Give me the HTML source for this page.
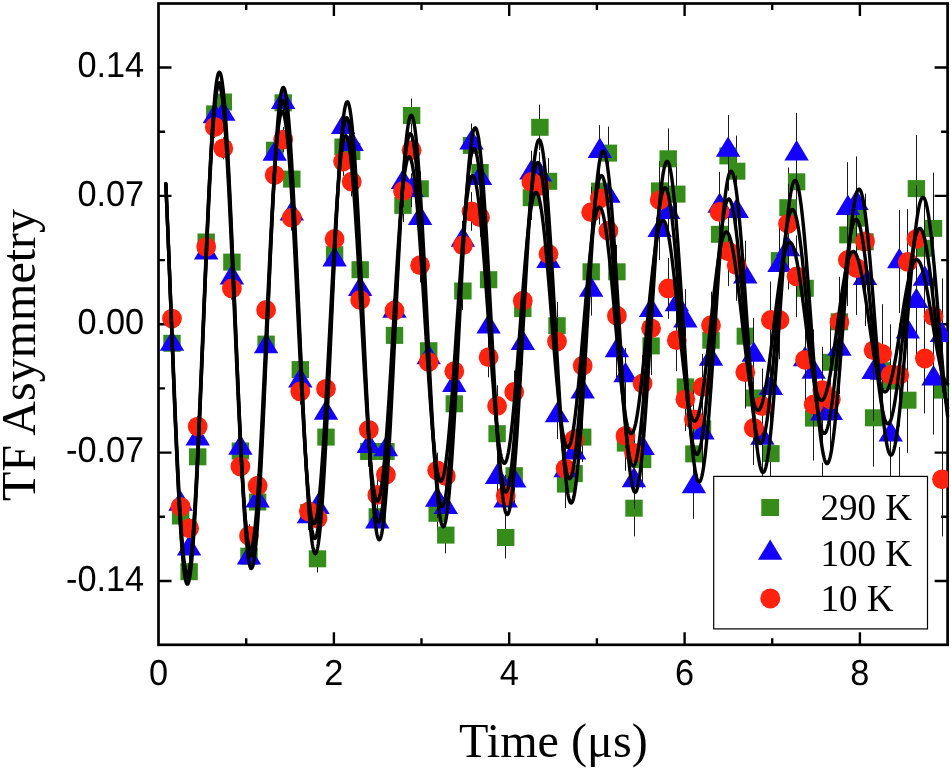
<!DOCTYPE html><html><head><meta charset="utf-8"><style>html,body{margin:0;padding:0;background:#fff;width:951px;height:769px;overflow:hidden}svg{display:block;will-change:transform}</style></head><body>
<svg width="951" height="769" viewBox="0 0 951 769">
<rect width="951" height="769" fill="#fff"/>
<rect x="158.5" y="3.5" width="789.1" height="641.3" fill="none" stroke="#000" stroke-width="2.7"/>
<path d="M246.2 644.8V638.3M246.2 3.5V10.0M333.9 644.8V632.1999999999999M333.9 3.5V16.1M421.5 644.8V638.3M421.5 3.5V10.0M509.2 644.8V632.1999999999999M509.2 3.5V16.1M596.9 644.8V638.3M596.9 3.5V10.0M684.6 644.8V632.1999999999999M684.6 3.5V16.1M772.2 644.8V638.3M772.2 3.5V10.0M859.9 644.8V632.1999999999999M859.9 3.5V16.1M158.5 581.0H171.5M947.6 581.0H934.6M158.5 516.8H165.0M947.6 516.8H941.1M158.5 452.6H171.5M947.6 452.6H934.6M158.5 388.4H165.0M947.6 388.4H941.1M158.5 324.2H171.5M947.6 324.2H934.6M158.5 260.1H165.0M947.6 260.1H941.1M158.5 195.9H171.5M947.6 195.9H934.6M158.5 131.7H165.0M947.6 131.7H941.1M158.5 67.5H171.5M947.6 67.5H934.6" stroke="#000" stroke-width="2.4"/>
<defs><clipPath id="pc"><rect x="157" y="2" width="791.2" height="644"/></clipPath></defs><g clip-path="url(#pc)">
<path d="M172.5 333.6V353.0M180.5 506.1V525.9M189.5 561.6V581.8M197.5 446.5V467.1M206.5 231.5V252.5M214.5 103.1V124.7M223.5 91.0V113.0M231.5 250.9V273.3M240.5 439.6V462.4M249.5 544.6V567.8M257.5 490.1V513.9M266.5 332.0V356.2M274.5 137.9V162.5M283.5 90.2V115.4M291.5 166.3V191.9M300.5 356.5V382.7M308.5 499.2V525.8M317.5 545.2V572.4M326.5 423.2V451.0M334.5 240.6V268.8M343.5 132.6V161.4M351.5 136.8V166.2M360.5 254.7V284.7M368.5 436.2V466.8M377.5 501.1V532.3M385.5 435.6V467.4M394.5 319.2V351.6M403.5 188.8V222.0M411.5 98.6V132.4M420.5 171.6V206.0M428.5 333.1V368.3M437.5 495.4V531.2M445.5 516.8V553.4M454.5 385.2V422.4M462.5 272.0V310.0M471.5 126.0V164.8M480.5 152.8V192.2M488.5 259.6V299.8M497.5 413.2V454.2M505.5 516.6V558.4M514.5 454.3V497.1M522.5 286.8V330.4M531.5 175.5V219.9M539.5 104.6V150.0M548.5 158.2V204.4M557.5 302.1V349.3M565.5 460.1V508.1M574.5 449.1V498.1M582.5 412.1V462.1M591.5 246.3V297.3M599.5 165.1V217.1M608.5 126.6V179.6M616.5 244.8V298.8M625.5 415.5V470.7M634.5 480.1V536.3M642.5 431.0V488.3M651.5 316.7V375.1M659.5 161.1V220.7M668.5 128.4V189.2M676.5 163.1V225.1M685.5 355.3V418.5M693.5 421.7V486.1M702.5 396.0V461.8M711.5 306.7V373.7M719.5 200.1V268.5M728.5 121.0V190.8M736.5 135.6V206.8M745.5 299.9V372.5M753.5 361.0V435.0M762.5 467.3V542.7M770.5 415.1V492.1M779.5 221.4V299.9M788.5 167.6V247.7M796.5 141.0V222.6M805.5 246.6V329.9M813.5 375.7V460.5M822.5 462.7V549.3M830.5 318.1V406.4M839.5 276.8V366.8M847.5 188.9V280.8M856.5 171.4V265.0M865.5 194.1V289.5M873.5 369.1V466.5M882.5 321.1V420.3M890.5 330.4V431.6M899.5 447.0V550.2M907.5 347.5V452.9M916.5 134.9V242.3M924.5 193.5V303.1M933.5 172.6V284.2M942.5 333.1V447.1" stroke="#1a1a1a" stroke-width="1.0" fill="none"/>
<g fill="#358c1b"><rect x="163.3" y="334.8" width="17.4" height="17"/><rect x="171.9" y="507.5" width="17.4" height="17"/><rect x="180.4" y="563.2" width="17.4" height="17"/><rect x="189.0" y="448.3" width="17.4" height="17"/><rect x="197.5" y="233.5" width="17.4" height="17"/><rect x="206.1" y="105.4" width="17.4" height="17"/><rect x="214.6" y="93.5" width="17.4" height="17"/><rect x="223.2" y="253.6" width="17.4" height="17"/><rect x="231.7" y="442.5" width="17.4" height="17"/><rect x="240.3" y="547.7" width="17.4" height="17"/><rect x="248.9" y="493.5" width="17.4" height="17"/><rect x="257.4" y="335.6" width="17.4" height="17"/><rect x="266.0" y="141.7" width="17.4" height="17"/><rect x="274.5" y="94.3" width="17.4" height="17"/><rect x="283.1" y="170.6" width="17.4" height="17"/><rect x="291.6" y="361.1" width="17.4" height="17"/><rect x="300.2" y="504.0" width="17.4" height="17"/><rect x="308.8" y="550.3" width="17.4" height="17"/><rect x="317.3" y="428.6" width="17.4" height="17"/><rect x="325.9" y="246.2" width="17.4" height="17"/><rect x="334.4" y="138.5" width="17.4" height="17"/><rect x="343.0" y="143.0" width="17.4" height="17"/><rect x="351.5" y="261.2" width="17.4" height="17"/><rect x="360.1" y="443.0" width="17.4" height="17"/><rect x="368.6" y="508.2" width="17.4" height="17"/><rect x="377.2" y="443.0" width="17.4" height="17"/><rect x="385.8" y="326.9" width="17.4" height="17"/><rect x="394.3" y="196.9" width="17.4" height="17"/><rect x="402.9" y="107.0" width="17.4" height="17"/><rect x="411.4" y="180.3" width="17.4" height="17"/><rect x="420.0" y="342.2" width="17.4" height="17"/><rect x="428.5" y="504.8" width="17.4" height="17"/><rect x="437.1" y="526.6" width="17.4" height="17"/><rect x="445.6" y="395.3" width="17.4" height="17"/><rect x="454.2" y="282.5" width="17.4" height="17"/><rect x="462.8" y="136.9" width="17.4" height="17"/><rect x="471.3" y="164.0" width="17.4" height="17"/><rect x="479.9" y="271.2" width="17.4" height="17"/><rect x="488.4" y="425.2" width="17.4" height="17"/><rect x="497.0" y="529.0" width="17.4" height="17"/><rect x="505.5" y="467.2" width="17.4" height="17"/><rect x="514.1" y="300.1" width="17.4" height="17"/><rect x="522.7" y="189.2" width="17.4" height="17"/><rect x="531.2" y="118.8" width="17.4" height="17"/><rect x="539.8" y="172.8" width="17.4" height="17"/><rect x="548.3" y="317.2" width="17.4" height="17"/><rect x="556.9" y="475.6" width="17.4" height="17"/><rect x="565.4" y="465.1" width="17.4" height="17"/><rect x="574.0" y="428.6" width="17.4" height="17"/><rect x="582.5" y="263.3" width="17.4" height="17"/><rect x="591.1" y="182.6" width="17.4" height="17"/><rect x="599.7" y="144.6" width="17.4" height="17"/><rect x="608.2" y="263.3" width="17.4" height="17"/><rect x="616.8" y="434.6" width="17.4" height="17"/><rect x="625.3" y="499.7" width="17.4" height="17"/><rect x="633.9" y="451.1" width="17.4" height="17"/><rect x="642.4" y="337.4" width="17.4" height="17"/><rect x="651.0" y="182.4" width="17.4" height="17"/><rect x="659.5" y="150.3" width="17.4" height="17"/><rect x="668.1" y="185.6" width="17.4" height="17"/><rect x="676.7" y="378.4" width="17.4" height="17"/><rect x="685.2" y="445.4" width="17.4" height="17"/><rect x="693.8" y="420.4" width="17.4" height="17"/><rect x="702.3" y="331.7" width="17.4" height="17"/><rect x="710.9" y="225.8" width="17.4" height="17"/><rect x="719.4" y="147.4" width="17.4" height="17"/><rect x="728.0" y="162.7" width="17.4" height="17"/><rect x="736.6" y="327.7" width="17.4" height="17"/><rect x="745.1" y="389.5" width="17.4" height="17"/><rect x="753.7" y="496.5" width="17.4" height="17"/><rect x="762.2" y="445.1" width="17.4" height="17"/><rect x="770.8" y="252.1" width="17.4" height="17"/><rect x="779.3" y="199.2" width="17.4" height="17"/><rect x="787.9" y="173.3" width="17.4" height="17"/><rect x="796.4" y="279.8" width="17.4" height="17"/><rect x="805.0" y="409.6" width="17.4" height="17"/><rect x="813.6" y="497.5" width="17.4" height="17"/><rect x="822.1" y="353.8" width="17.4" height="17"/><rect x="830.7" y="313.3" width="17.4" height="17"/><rect x="839.2" y="226.4" width="17.4" height="17"/><rect x="847.8" y="209.7" width="17.4" height="17"/><rect x="856.3" y="233.3" width="17.4" height="17"/><rect x="864.9" y="409.3" width="17.4" height="17"/><rect x="873.4" y="362.2" width="17.4" height="17"/><rect x="882.0" y="372.5" width="17.4" height="17"/><rect x="890.6" y="490.1" width="17.4" height="17"/><rect x="899.1" y="391.7" width="17.4" height="17"/><rect x="907.7" y="180.1" width="17.4" height="17"/><rect x="916.2" y="239.8" width="17.4" height="17"/><rect x="924.8" y="219.9" width="17.4" height="17"/><rect x="933.3" y="381.6" width="17.4" height="17"/></g>
<path d="M172.5 334.3V353.7M180.5 494.1V513.9M189.5 538.6V558.8M197.5 428.5V449.1M206.5 242.2V263.2M214.5 105.8V127.4M223.5 103.0V125.0M231.5 266.5V288.9M240.5 436.6V459.4M249.5 546.3V569.5M257.5 488.9V512.7M266.5 334.5V358.7M274.5 141.7V166.3M283.5 89.6V114.8M291.5 201.1V226.7M300.5 367.7V393.9M308.5 503.3V529.9M317.5 493.8V521.0M326.5 399.2V427.0M334.5 245.7V273.9M343.5 112.8V141.6M351.5 129.5V158.9M360.5 274.3V304.3M368.5 430.9V461.5M377.5 506.3V537.5M385.5 433.7V465.5M394.5 294.9V327.3M403.5 165.8V199.0M411.5 173.3V207.1M420.5 201.2V235.6M428.5 340.0V375.2M437.5 482.2V518.0M445.5 489.1V525.7M454.5 366.6V403.8M462.5 221.1V259.1M471.5 123.5V162.3M480.5 158.7V198.1M488.5 306.8V347.0M497.5 456.7V497.7M505.5 479.9V521.7M514.5 459.5V502.3M522.5 321.4V365.0M531.5 150.7V195.1M539.5 152.1V197.5M548.5 238.1V284.3M557.5 391.9V439.1M565.5 446.6V494.6M574.5 428.2V477.2M582.5 366.8V416.8M591.5 264.6V315.6M599.5 125.2V177.2M608.5 169.6V222.6M616.5 323.5V377.5M625.5 347.9V403.1M634.5 452.4V508.6M642.5 419.6V477.0M651.5 281.1V339.5M659.5 200.4V260.0M668.5 181.9V242.7M676.5 273.5V335.5M685.5 289.2V352.4M693.5 454.4V518.8M702.5 399.8V465.6M711.5 325.5V392.5M719.5 171.8V240.2M728.5 115.1V184.9M736.5 175.7V246.9M745.5 240.6V313.2M753.5 318.0V392.0M762.5 400.3V475.7M770.5 349.9V426.9M779.5 226.1V304.5M788.5 209.5V289.6M796.5 112.9V194.5M805.5 318.0V401.2M813.5 329.6V414.5M822.5 370.4V457.0M830.5 369.2V457.5M839.5 304.0V394.0M847.5 162.2V254.1M856.5 156.4V250.0M865.5 230.6V326.1M873.5 323.7V421.1M882.5 323.4V422.6M890.5 384.3V485.5M899.5 209.9V313.1M907.5 279.2V384.6M916.5 247.6V355.0M924.5 224.3V333.9M933.5 322.9V434.5M942.5 278.4V392.4" stroke="#1a1a1a" stroke-width="1.0" fill="none"/>
<path fill="#1400ff" d="M159.8 350.7L184.2 350.7L172.0 330.4ZM168.4 510.7L192.8 510.7L180.6 490.4ZM176.9 555.4L201.3 555.4L189.1 535.1ZM185.5 445.5L209.9 445.5L197.7 425.2ZM194.0 259.4L218.4 259.4L206.2 239.1ZM202.6 123.3L227.0 123.3L214.8 103.0ZM211.1 120.7L235.5 120.7L223.3 100.4ZM219.7 284.4L244.1 284.4L231.9 264.1ZM228.2 454.7L252.6 454.7L240.4 434.4ZM236.8 564.6L261.2 564.6L249.0 544.3ZM245.4 507.5L269.8 507.5L257.6 487.2ZM253.9 353.3L278.3 353.3L266.1 333.0ZM262.5 160.7L286.9 160.7L274.7 140.4ZM271.0 108.9L295.4 108.9L283.2 88.6ZM279.6 220.6L304.0 220.6L291.8 200.3ZM288.1 387.5L312.5 387.5L300.3 367.2ZM296.7 523.3L321.1 523.3L308.9 503.0ZM305.3 514.1L329.7 514.1L317.5 493.8ZM313.8 419.8L338.2 419.8L326.0 399.5ZM322.4 266.5L346.8 266.5L334.6 246.2ZM330.9 133.9L355.3 133.9L343.1 113.6ZM339.5 150.9L363.9 150.9L351.7 130.6ZM348.0 296.0L372.4 296.0L360.2 275.7ZM356.6 452.9L381.0 452.9L368.8 432.6ZM365.1 528.6L389.5 528.6L377.3 508.3ZM373.7 456.3L398.1 456.3L385.9 436.0ZM382.3 317.8L406.7 317.8L394.5 297.5ZM390.8 189.1L415.2 189.1L403.0 168.8ZM399.4 196.9L423.8 196.9L411.6 176.6ZM407.9 225.1L432.3 225.1L420.1 204.8ZM416.5 364.3L440.9 364.3L428.7 344.0ZM425.0 506.8L449.4 506.8L437.2 486.5ZM433.6 514.1L458.0 514.1L445.8 493.8ZM442.1 391.9L466.5 391.9L454.3 371.6ZM450.7 246.8L475.1 246.8L462.9 226.5ZM459.3 149.6L483.7 149.6L471.5 129.3ZM467.8 185.1L492.2 185.1L480.0 164.8ZM476.4 333.6L500.8 333.6L488.6 313.3ZM484.9 483.9L509.3 483.9L497.1 463.6ZM493.5 507.5L517.9 507.5L505.7 487.2ZM502.0 487.6L526.4 487.6L514.2 467.3ZM510.6 349.9L535.0 349.9L522.8 329.6ZM519.2 179.6L543.6 179.6L531.4 159.3ZM527.7 181.5L552.1 181.5L539.9 161.2ZM536.3 267.9L560.7 267.9L548.5 247.6ZM544.8 422.2L569.2 422.2L557.0 401.9ZM553.4 477.3L577.8 477.3L565.6 457.0ZM561.9 459.4L586.3 459.4L574.1 439.1ZM570.5 398.5L594.9 398.5L582.7 378.2ZM579.0 296.8L603.4 296.8L591.2 276.5ZM587.6 157.9L612.0 157.9L599.8 137.6ZM596.2 202.8L620.6 202.8L608.4 182.5ZM604.7 357.2L629.1 357.2L616.9 336.9ZM613.3 382.2L637.7 382.2L625.5 361.9ZM621.8 487.2L646.2 487.2L634.0 466.9ZM630.4 455.0L654.8 455.0L642.6 434.7ZM638.9 317.0L663.3 317.0L651.1 296.7ZM647.5 236.9L671.9 236.9L659.7 216.6ZM656.0 219.0L680.4 219.0L668.2 198.7ZM664.6 311.2L689.0 311.2L676.8 290.9ZM673.2 327.5L697.6 327.5L685.4 307.2ZM681.7 493.3L706.1 493.3L693.9 473.0ZM690.3 439.4L714.7 439.4L702.5 419.1ZM698.8 365.7L723.2 365.7L711.0 345.4ZM707.4 212.7L731.8 212.7L719.6 192.4ZM715.9 156.7L740.3 156.7L728.1 136.4ZM724.5 218.0L748.9 218.0L736.7 197.7ZM733.1 283.6L757.5 283.6L745.3 263.3ZM741.6 361.7L766.0 361.7L753.8 341.4ZM750.2 444.7L774.6 444.7L762.4 424.4ZM758.7 395.1L783.1 395.1L770.9 374.8ZM767.3 272.0L791.7 272.0L779.5 251.7ZM775.8 256.2L800.2 256.2L788.0 235.9ZM784.4 160.4L808.8 160.4L796.6 140.1ZM792.9 366.3L817.3 366.3L805.1 346.0ZM801.5 378.8L825.9 378.8L813.7 358.4ZM810.1 420.4L834.5 420.4L822.3 400.1ZM818.6 420.1L843.0 420.1L830.8 399.8ZM827.2 355.7L851.6 355.7L839.4 335.4ZM835.7 214.9L860.1 214.9L847.9 194.6ZM844.3 209.9L868.7 209.9L856.5 189.6ZM852.8 285.1L877.2 285.1L865.0 264.8ZM861.4 379.1L885.8 379.1L873.6 358.8ZM869.9 379.7L894.3 379.7L882.1 359.4ZM878.5 441.6L902.9 441.6L890.7 421.3ZM887.1 268.2L911.5 268.2L899.3 247.9ZM895.6 338.6L920.0 338.6L907.8 318.3ZM904.2 308.0L928.6 308.0L916.4 287.7ZM912.7 285.8L937.1 285.8L924.9 265.5ZM921.3 385.4L945.7 385.4L933.5 365.1ZM929.8 342.1L954.2 342.1L942.0 321.8Z"/>
<path d="M172.5 308.9V328.3M180.5 496.9V516.7M189.5 518.2V538.4M197.5 416.3V436.9M206.5 236.3V257.3M214.5 116.2V137.8M223.5 137.3V159.3M231.5 277.2V299.6M240.5 455.1V477.9M249.5 524.1V547.3M257.5 473.8V497.6M266.5 297.8V322.0M274.5 162.8V187.4M283.5 127.0V152.2M291.5 204.9V230.5M300.5 378.3V404.5M308.5 498.2V524.8M317.5 505.0V532.2M326.5 374.9V402.7M334.5 224.8V253.1M343.5 147.1V175.9M351.5 167.0V196.4M360.5 284.9V314.9M368.5 414.4V445.1M377.5 479.3V510.5M385.5 458.8V490.6M394.5 294.2V326.6M403.5 174.3V207.5M411.5 133.3V167.1M420.5 248.0V282.4M428.5 344.4V379.6M437.5 452.6V488.4M445.5 457.7V494.3M454.5 352.6V389.8M462.5 226.2V264.1M471.5 192.0V230.8M480.5 197.5V236.9M488.5 337.1V377.3M497.5 385.4V426.4M505.5 474.8V516.6M514.5 370.5V413.3M522.5 278.9V322.5M531.5 159.7V204.1M539.5 163.1V208.5M548.5 230.8V277.0M557.5 317.9V365.1M565.5 444.6V492.6M574.5 415.2V464.2M582.5 340.7V390.7M591.5 186.7V237.7M599.5 172.5V224.5M608.5 204.2V257.2M616.5 288.7V342.7M625.5 408.2V463.4M634.5 424.8V481.0M642.5 354.8V412.2M651.5 299.1V357.5M659.5 170.3V229.9M668.5 258.0V318.8M676.5 309.2V371.2M685.5 367.6V430.9M693.5 387.1V451.6M702.5 354.0V419.8M711.5 291.7V358.7M719.5 177.7V246.1M728.5 216.4V286.2M736.5 229.6V300.8M745.5 335.9V408.5M753.5 390.9V464.9M762.5 368.5V444.0M770.5 281.6V358.5M779.5 280.8V359.3M788.5 183.7V263.8M796.5 235.5V317.2M805.5 318.2V401.4M813.5 362.0V446.8M822.5 346.8V433.4M830.5 355.3V443.5M839.5 277.0V367.0M847.5 214.1V305.9M856.5 221.2V314.9M865.5 193.7V289.2M873.5 301.6V399.0M882.5 304.2V403.4M890.5 324.3V425.5M899.5 323.3V426.5M907.5 209.2V314.6M916.5 185.2V292.6M924.5 303.7V413.3M933.5 260.5V372.1M942.5 422.3V536.3" stroke="#1a1a1a" stroke-width="1.0" fill="none"/>
<g fill="#ff230f"><circle cx="172.0" cy="318.6" r="9.9"/><circle cx="180.6" cy="506.8" r="9.9"/><circle cx="189.1" cy="528.3" r="9.9"/><circle cx="197.7" cy="426.6" r="9.9"/><circle cx="206.2" cy="246.8" r="9.9"/><circle cx="214.8" cy="127.0" r="9.9"/><circle cx="223.3" cy="148.3" r="9.9"/><circle cx="231.9" cy="288.4" r="9.9"/><circle cx="240.4" cy="466.5" r="9.9"/><circle cx="249.0" cy="535.7" r="9.9"/><circle cx="257.6" cy="485.7" r="9.9"/><circle cx="266.1" cy="309.9" r="9.9"/><circle cx="274.7" cy="175.1" r="9.9"/><circle cx="283.2" cy="139.6" r="9.9"/><circle cx="291.8" cy="217.7" r="9.9"/><circle cx="300.3" cy="391.4" r="9.9"/><circle cx="308.9" cy="511.5" r="9.9"/><circle cx="317.5" cy="518.6" r="9.9"/><circle cx="326.0" cy="388.8" r="9.9"/><circle cx="334.6" cy="238.9" r="9.9"/><circle cx="343.1" cy="161.5" r="9.9"/><circle cx="351.7" cy="181.7" r="9.9"/><circle cx="360.2" cy="299.9" r="9.9"/><circle cx="368.8" cy="429.8" r="9.9"/><circle cx="377.3" cy="494.9" r="9.9"/><circle cx="385.9" cy="474.7" r="9.9"/><circle cx="394.5" cy="310.4" r="9.9"/><circle cx="403.0" cy="190.9" r="9.9"/><circle cx="411.6" cy="150.2" r="9.9"/><circle cx="420.1" cy="265.2" r="9.9"/><circle cx="428.7" cy="362.0" r="9.9"/><circle cx="437.2" cy="470.5" r="9.9"/><circle cx="445.8" cy="476.0" r="9.9"/><circle cx="454.3" cy="371.2" r="9.9"/><circle cx="462.9" cy="245.2" r="9.9"/><circle cx="471.5" cy="211.4" r="9.9"/><circle cx="480.0" cy="217.2" r="9.9"/><circle cx="488.6" cy="357.2" r="9.9"/><circle cx="497.1" cy="405.9" r="9.9"/><circle cx="505.7" cy="495.7" r="9.9"/><circle cx="514.2" cy="391.9" r="9.9"/><circle cx="522.8" cy="300.7" r="9.9"/><circle cx="531.4" cy="181.9" r="9.9"/><circle cx="539.9" cy="185.8" r="9.9"/><circle cx="548.5" cy="253.9" r="9.9"/><circle cx="557.0" cy="341.5" r="9.9"/><circle cx="565.6" cy="468.6" r="9.9"/><circle cx="574.1" cy="439.7" r="9.9"/><circle cx="582.7" cy="365.7" r="9.9"/><circle cx="591.2" cy="212.2" r="9.9"/><circle cx="599.8" cy="198.5" r="9.9"/><circle cx="608.4" cy="230.7" r="9.9"/><circle cx="616.9" cy="315.7" r="9.9"/><circle cx="625.5" cy="435.8" r="9.9"/><circle cx="634.0" cy="452.9" r="9.9"/><circle cx="642.6" cy="383.5" r="9.9"/><circle cx="651.1" cy="328.3" r="9.9"/><circle cx="659.7" cy="200.1" r="9.9"/><circle cx="668.2" cy="288.4" r="9.9"/><circle cx="676.8" cy="340.2" r="9.9"/><circle cx="685.4" cy="399.2" r="9.9"/><circle cx="693.9" cy="419.4" r="9.9"/><circle cx="702.5" cy="386.9" r="9.9"/><circle cx="711.0" cy="325.2" r="9.9"/><circle cx="719.6" cy="211.9" r="9.9"/><circle cx="728.1" cy="251.3" r="9.9"/><circle cx="736.7" cy="265.2" r="9.9"/><circle cx="745.3" cy="372.2" r="9.9"/><circle cx="753.8" cy="427.9" r="9.9"/><circle cx="762.4" cy="406.2" r="9.9"/><circle cx="770.9" cy="320.0" r="9.9"/><circle cx="779.5" cy="320.0" r="9.9"/><circle cx="788.0" cy="223.8" r="9.9"/><circle cx="796.6" cy="276.4" r="9.9"/><circle cx="805.1" cy="359.8" r="9.9"/><circle cx="813.7" cy="404.4" r="9.9"/><circle cx="822.3" cy="390.1" r="9.9"/><circle cx="830.8" cy="399.4" r="9.9"/><circle cx="839.4" cy="322.0" r="9.9"/><circle cx="847.9" cy="260.0" r="9.9"/><circle cx="856.5" cy="268.0" r="9.9"/><circle cx="865.0" cy="241.4" r="9.9"/><circle cx="873.6" cy="350.3" r="9.9"/><circle cx="882.1" cy="353.8" r="9.9"/><circle cx="890.7" cy="374.9" r="9.9"/><circle cx="899.3" cy="374.9" r="9.9"/><circle cx="907.8" cy="261.9" r="9.9"/><circle cx="916.4" cy="238.9" r="9.9"/><circle cx="924.9" cy="358.5" r="9.9"/><circle cx="933.5" cy="316.3" r="9.9"/><circle cx="942.0" cy="479.3" r="9.9"/></g>
</g>
<path d="M165.80 183.71L166.24 193.51L166.67 203.54L167.11 213.78L167.54 224.21L167.98 234.81L168.41 245.57L168.85 256.47L169.28 267.47L169.71 278.58L170.15 289.75L170.58 300.98L171.02 312.24L171.45 323.52L171.89 334.78L172.32 346.02L172.76 357.20L173.19 368.32L173.63 379.35L174.06 390.27L174.50 401.06L174.93 411.70L175.36 422.17L175.80 432.45L176.23 442.53L176.67 452.39L177.10 462.00L177.54 471.35L177.97 480.43L178.41 489.21L178.84 497.69L179.28 505.84L179.71 513.66L180.14 521.12L180.58 528.22L181.01 534.95L181.45 541.28L181.88 547.21L182.32 552.73L182.75 557.83L183.19 562.50L183.62 566.73L184.06 570.52L184.49 573.85L184.92 576.73L185.36 579.15L185.79 581.09L186.23 582.57L186.66 583.58L187.10 584.11L187.53 584.17L187.97 583.76L188.40 582.87L188.84 581.52L189.27 579.69L189.71 577.41L190.14 574.66L190.57 571.46L191.01 567.81L191.44 563.72L191.88 559.20L192.31 554.25L192.75 548.89L193.18 543.13L193.62 536.97L194.05 530.43L194.49 523.52L194.92 516.25L195.35 508.64L195.79 500.69L196.22 492.44L196.66 483.88L197.09 475.04L197.53 465.94L197.96 456.58L198.40 446.99L198.83 437.18L199.27 427.18L199.70 417.00L200.13 406.66L200.57 396.17L201.00 385.56L201.44 374.86L201.87 364.06L202.31 353.21L202.74 342.31L203.18 331.39L203.61 320.46L204.05 309.55L204.48 298.67L204.92 287.85L205.35 277.11L205.78 266.46L206.22 255.93L206.65 245.53L207.09 235.28L207.52 225.20L207.96 215.31L208.39 205.63L208.83 196.17L209.26 186.95L209.70 177.99L210.13 169.30L210.56 160.91L211.00 152.82L211.43 145.04L211.87 137.60L212.30 130.51L212.74 123.78L213.17 117.41L213.61 111.43L214.04 105.84L214.48 100.65L214.91 95.88L215.34 91.52L215.78 87.59L216.21 84.10L216.65 81.05L217.08 78.44L217.52 76.28L217.95 74.58L218.39 73.33L218.82 72.54L219.26 72.21L219.69 72.33L220.13 72.92L220.56 73.96L220.99 75.46L221.43 77.41L221.86 79.81L222.30 82.65L222.73 85.93L223.17 89.64L223.60 93.77L224.04 98.32L224.47 103.28L224.91 108.64L225.34 114.38L225.77 120.50L226.21 126.99L226.64 133.83L227.08 141.01L227.51 148.52L227.95 156.35L228.38 164.47L228.82 172.87L229.25 181.55L229.69 190.48L230.12 199.64L230.55 209.02L230.99 218.61L231.42 228.38L231.86 238.31L232.29 248.39L232.73 258.60L233.16 268.93L233.60 279.34L234.03 289.83L234.47 300.37L234.90 310.95L235.34 321.54L235.77 332.13L236.20 342.69L236.64 353.21L237.07 363.67L237.51 374.05L237.94 384.33L238.38 394.49L238.81 404.52L239.25 414.39L239.68 424.08L240.12 433.59L240.55 442.89L240.98 451.96L241.42 460.80L241.85 469.38L242.29 477.69L242.72 485.71L243.16 493.43L243.59 500.83L244.03 507.91L244.46 514.65L244.90 521.03L245.33 527.05L245.76 532.70L246.20 537.96L246.63 542.82L247.07 547.29L247.50 551.34L247.94 554.98L248.37 558.20L248.81 560.98L249.24 563.33L249.68 565.25L250.11 566.72L250.55 567.75L250.98 568.34L251.41 568.48L251.85 568.17L252.28 567.43L252.72 566.24L253.15 564.61L253.59 562.54L254.02 560.04L254.46 557.11L254.89 553.77L255.33 550.00L255.76 545.83L256.19 541.26L256.63 536.30L257.06 530.95L257.50 525.24L257.93 519.16L258.37 512.73L258.80 505.96L259.24 498.87L259.67 491.47L260.11 483.77L260.54 475.78L260.97 467.52L261.41 459.01L261.84 450.27L262.28 441.30L262.71 432.12L263.15 422.76L263.58 413.22L264.02 403.53L264.45 393.70L264.89 383.76L265.32 373.72L265.76 363.59L266.19 353.40L266.62 343.17L267.06 332.91L267.49 322.64L267.93 312.38L268.36 302.16L268.80 291.98L269.23 281.87L269.67 271.85L270.10 261.93L270.54 252.13L270.97 242.48L271.40 232.98L271.84 223.65L272.27 214.51L272.71 205.58L273.14 196.88L273.58 188.42L274.01 180.20L274.45 172.26L274.88 164.60L275.32 157.24L275.75 150.19L276.19 143.47L276.62 137.07L277.05 131.03L277.49 125.34L277.92 120.01L278.36 115.07L278.79 110.51L279.23 106.34L279.66 102.57L280.10 99.21L280.53 96.26L280.97 93.73L281.40 91.63L281.83 89.94L282.27 88.69L282.70 87.86L283.14 87.47L283.57 87.51L284.01 87.98L284.44 88.87L284.88 90.20L285.31 91.95L285.75 94.13L286.18 96.72L286.61 99.72L287.05 103.13L287.48 106.94L287.92 111.14L288.35 115.72L288.79 120.69L289.22 126.01L289.66 131.70L290.09 137.73L290.53 144.09L290.96 150.78L291.40 157.78L291.83 165.07L292.26 172.65L292.70 180.50L293.13 188.60L293.57 196.95L294.00 205.52L294.44 214.29L294.87 223.26L295.31 232.41L295.74 241.72L296.18 251.16L296.61 260.74L297.04 270.42L297.48 280.19L297.91 290.03L298.35 299.93L298.78 309.86L299.22 319.81L299.65 329.76L300.09 339.69L300.52 349.58L300.96 359.42L301.39 369.19L301.82 378.86L302.26 388.43L302.69 397.88L303.13 407.18L303.56 416.32L304.00 425.29L304.43 434.07L304.87 442.63L305.30 450.98L305.74 459.09L306.17 466.94L306.61 474.53L307.04 481.84L307.47 488.85L307.91 495.56L308.34 501.95L308.78 508.01L309.21 513.73L309.65 519.11L310.08 524.12L310.52 528.76L310.95 533.03L311.39 536.91L311.82 540.41L312.25 543.50L312.69 546.20L313.12 548.48L313.56 550.36L313.99 551.83L314.43 552.87L314.86 553.50L315.30 553.72L315.73 553.51L316.17 552.89L316.60 551.85L317.03 550.39L317.47 548.53L317.90 546.26L318.34 543.59L318.77 540.52L319.21 537.05L319.64 533.21L320.08 528.98L320.51 524.39L320.95 519.44L321.38 514.13L321.82 508.48L322.25 502.50L322.68 496.21L323.12 489.60L323.55 482.70L323.99 475.52L324.42 468.06L324.86 460.35L325.29 452.40L325.73 444.23L326.16 435.84L326.60 427.25L327.03 418.49L327.46 409.56L327.90 400.48L328.33 391.27L328.77 381.95L329.20 372.53L329.64 363.03L330.07 353.46L330.51 343.85L330.94 334.22L331.38 324.57L331.81 314.93L332.24 305.32L332.68 295.75L333.11 286.24L333.55 276.80L333.98 267.46L334.42 258.24L334.85 249.14L335.29 240.18L335.72 231.38L336.16 222.77L336.59 214.34L337.03 206.12L337.46 198.12L337.89 190.36L338.33 182.85L338.76 175.60L339.20 168.63L339.63 161.95L340.07 155.57L340.50 149.51L340.94 143.76L341.37 138.35L341.81 133.29L342.24 128.57L342.67 124.22L343.11 120.23L343.54 116.62L343.98 113.39L344.41 110.54L344.85 108.09L345.28 106.03L345.72 104.38L346.15 103.12L346.59 102.27L347.02 101.82L347.45 101.78L347.89 102.14L348.32 102.91L348.76 104.08L349.19 105.65L349.63 107.62L350.06 109.98L350.50 112.73L350.93 115.86L351.37 119.36L351.80 123.24L352.24 127.48L352.67 132.08L353.10 137.02L353.54 142.30L353.97 147.90L354.41 153.82L354.84 160.05L355.28 166.57L355.71 173.37L356.15 180.44L356.58 187.77L357.02 195.34L357.45 203.13L357.88 211.14L358.32 219.35L358.75 227.75L359.19 236.31L359.62 245.03L360.06 253.88L360.49 262.85L360.93 271.93L361.36 281.09L361.80 290.33L362.23 299.62L362.67 308.95L363.10 318.29L363.53 327.64L363.97 336.98L364.40 346.28L364.84 355.54L365.27 364.73L365.71 373.84L366.14 382.85L366.58 391.74L367.01 400.51L367.45 409.13L367.88 417.59L368.31 425.87L368.75 433.96L369.18 441.84L369.62 449.50L370.05 456.92L370.49 464.10L370.92 471.02L371.36 477.66L371.79 484.02L372.23 490.08L372.66 495.84L373.09 501.28L373.53 506.39L373.96 511.16L374.40 515.59L374.83 519.67L375.27 523.39L375.70 526.74L376.14 529.72L376.57 532.32L377.01 534.54L377.44 536.38L377.88 537.83L378.31 538.89L378.74 539.56L379.18 539.83L379.61 539.71L380.05 539.20L380.48 538.30L380.92 537.01L381.35 535.33L381.79 533.27L382.22 530.83L382.66 528.01L383.09 524.83L383.52 521.29L383.96 517.38L384.39 513.13L384.83 508.54L385.26 503.62L385.70 498.37L386.13 492.82L386.57 486.96L387.00 480.80L387.44 474.37L387.87 467.67L388.30 460.72L388.74 453.52L389.17 446.09L389.61 438.45L390.04 430.60L390.48 422.57L390.91 414.37L391.35 406.00L391.78 397.50L392.22 388.87L392.65 380.13L393.09 371.30L393.52 362.38L393.95 353.41L394.39 344.39L394.82 335.34L395.26 326.28L395.69 317.22L396.13 308.18L396.56 299.18L397.00 290.23L397.43 281.35L397.87 272.56L398.30 263.87L398.73 255.29L399.17 246.85L399.60 238.56L400.04 230.43L400.47 222.48L400.91 214.71L401.34 207.16L401.78 199.83L402.21 192.72L402.65 185.87L403.08 179.27L403.51 172.94L403.95 166.89L404.38 161.13L404.82 155.68L405.25 150.53L405.69 145.71L406.12 141.22L406.56 137.06L406.99 133.25L407.43 129.79L407.86 126.69L408.30 123.94L408.73 121.57L409.16 119.57L409.60 117.94L410.03 116.69L410.47 115.81L410.90 115.32L411.34 115.21L411.77 115.48L412.21 116.13L412.64 117.15L413.08 118.56L413.51 120.33L413.94 122.48L414.38 124.99L414.81 127.87L415.25 131.10L415.68 134.67L416.12 138.59L416.55 142.85L416.99 147.43L417.42 152.33L417.86 157.54L418.29 163.04L418.72 168.84L419.16 174.91L419.59 181.25L420.03 187.85L420.46 194.69L420.90 201.76L421.33 209.04L421.77 216.53L422.20 224.21L422.64 232.07L423.07 240.08L423.51 248.25L423.94 256.54L424.37 264.95L424.81 273.46L425.24 282.06L425.68 290.72L426.11 299.44L426.55 308.20L426.98 316.98L427.42 325.76L427.85 334.54L428.29 343.28L428.72 351.99L429.15 360.64L429.59 369.21L430.02 377.70L430.46 386.08L430.89 394.34L431.33 402.46L431.76 410.44L432.20 418.25L432.63 425.89L433.07 433.33L433.50 440.57L433.93 447.59L434.37 454.38L434.80 460.92L435.24 467.22L435.67 473.24L436.11 478.99L436.54 484.45L436.98 489.62L437.41 494.48L437.85 499.03L438.28 503.25L438.72 507.15L439.15 510.70L439.58 513.92L440.02 516.79L440.45 519.30L440.89 521.46L441.32 523.25L441.76 524.68L442.19 525.75L442.63 526.45L443.06 526.77L443.50 526.73L443.93 526.32L444.36 525.54L444.80 524.40L445.23 522.89L445.67 521.02L446.10 518.80L446.54 516.22L446.97 513.30L447.41 510.03L447.84 506.43L448.28 502.50L448.71 498.24L449.15 493.68L449.58 488.81L450.01 483.64L450.45 478.19L450.88 472.46L451.32 466.46L451.75 460.22L452.19 453.73L452.62 447.01L453.06 440.07L453.49 432.92L453.93 425.59L454.36 418.07L454.79 410.39L455.23 402.57L455.66 394.60L456.10 386.51L456.53 378.32L456.97 370.04L457.40 361.67L457.84 353.25L458.27 344.78L458.71 336.29L459.14 327.77L459.57 319.26L460.01 310.76L460.44 302.30L460.88 293.88L461.31 285.53L461.75 277.25L462.18 269.06L462.62 260.98L463.05 253.03L463.49 245.21L463.92 237.54L464.36 230.04L464.79 222.71L465.22 215.57L465.66 208.64L466.09 201.93L466.53 195.44L466.96 189.19L467.40 183.20L467.83 177.46L468.27 172.00L468.70 166.82L469.14 161.93L469.57 157.34L470.00 153.06L470.44 149.10L470.87 145.45L471.31 142.14L471.74 139.16L472.18 136.52L472.61 134.22L473.05 132.27L473.48 130.67L473.92 129.43L474.35 128.54L474.78 128.01L475.22 127.84L475.65 128.02L476.09 128.56L476.52 129.46L476.96 130.71L477.39 132.32L477.83 134.27L478.26 136.56L478.70 139.20L479.13 142.17L479.57 145.47L480.00 149.09L480.43 153.03L480.87 157.27L481.30 161.82L481.74 166.66L482.17 171.78L482.61 177.18L483.04 182.83L483.48 188.74L483.91 194.90L484.35 201.28L484.78 207.88L485.21 214.69L485.65 221.69L486.08 228.87L486.52 236.22L486.95 243.72L487.39 251.37L487.82 259.14L488.26 267.02L488.69 275.00L489.13 283.06L489.56 291.19L489.99 299.38L490.43 307.60L490.86 315.84L491.30 324.10L491.73 332.34L492.17 340.57L492.60 348.76L493.04 356.89L493.47 364.96L493.91 372.95L494.34 380.85L494.78 388.63L495.21 396.29L495.64 403.81L496.08 411.18L496.51 418.39L496.95 425.42L497.38 432.25L497.82 438.89L498.25 445.31L498.69 451.50L499.12 457.46L499.56 463.17L499.99 468.62L500.42 473.81L500.86 478.72L501.29 483.34L501.73 487.67L502.16 491.69L502.60 495.41L503.03 498.82L503.47 501.90L503.90 504.65L504.34 507.08L504.77 509.17L505.20 510.92L505.64 512.33L506.07 513.40L506.51 514.12L506.94 514.49L507.38 514.52L507.81 514.20L508.25 513.54L508.68 512.53L509.12 511.18L509.55 509.48L509.99 507.46L510.42 505.10L510.85 502.41L511.29 499.40L511.72 496.08L512.16 492.44L512.59 488.50L513.03 484.27L513.46 479.75L513.90 474.94L514.33 469.87L514.77 464.54L515.20 458.95L515.63 453.13L516.07 447.07L516.50 440.80L516.94 434.32L517.37 427.64L517.81 420.78L518.24 413.75L518.68 406.57L519.11 399.24L519.55 391.78L519.98 384.20L520.41 376.52L520.85 368.75L521.28 360.91L521.72 353.01L522.15 345.06L522.59 337.08L523.02 329.08L523.46 321.08L523.89 313.09L524.33 305.13L524.76 297.22L525.20 289.35L525.63 281.56L526.06 273.85L526.50 266.24L526.93 258.75L527.37 251.37L527.80 244.14L528.24 237.06L528.67 230.14L529.11 223.40L529.54 216.85L529.98 210.51L530.41 204.37L530.84 198.46L531.28 192.78L531.71 187.34L532.15 182.16L532.58 177.24L533.02 172.60L533.45 168.23L533.89 164.15L534.32 160.37L534.76 156.89L535.19 153.72L535.62 150.86L536.06 148.31L536.49 146.09L536.93 144.20L537.36 142.64L537.80 141.40L538.23 140.51L538.67 139.94L539.10 139.72L539.54 139.83L539.97 140.27L540.41 141.05L540.84 142.16L541.27 143.61L541.71 145.38L542.14 147.47L542.58 149.89L543.01 152.62L543.45 155.66L543.88 159.01L544.32 162.65L544.75 166.59L545.19 170.81L545.62 175.30L546.05 180.06L546.49 185.08L546.92 190.35L547.36 195.86L547.79 201.60L548.23 207.55L548.66 213.72L549.10 220.08L549.53 226.62L549.97 233.34L550.40 240.21L550.84 247.24L551.27 254.40L551.70 261.67L552.14 269.06L552.57 276.54L553.01 284.10L553.44 291.73L553.88 299.41L554.31 307.13L554.75 314.87L555.18 322.63L555.62 330.38L556.05 338.11L556.48 345.81L556.92 353.47L557.35 361.06L557.79 368.58L558.22 376.02L558.66 383.35L559.09 390.57L559.53 397.66L559.96 404.62L560.40 411.42L560.83 418.05L561.26 424.51L561.70 430.78L562.13 436.85L562.57 442.72L563.00 448.36L563.44 453.77L563.87 458.94L564.31 463.86L564.74 468.52L565.18 472.91L565.61 477.03L566.05 480.87L566.48 484.42L566.91 487.67L567.35 490.63L567.78 493.28L568.22 495.61L568.65 497.64L569.09 499.34L569.52 500.73L569.96 501.79L570.39 502.53L570.83 502.95L571.26 503.03L571.69 502.80L572.13 502.23L572.56 501.35L573.00 500.14L573.43 498.61L573.87 496.76L574.30 494.61L574.74 492.14L575.17 489.37L575.61 486.30L576.04 482.94L576.47 479.30L576.91 475.37L577.34 471.17L577.78 466.71L578.21 461.99L578.65 457.03L579.08 451.82L579.52 446.39L579.95 440.74L580.39 434.89L580.82 428.83L581.26 422.60L581.69 416.18L582.12 409.61L582.56 402.89L582.99 396.02L583.43 389.04L583.86 381.94L584.30 374.74L584.73 367.46L585.17 360.10L585.60 352.68L586.04 345.22L586.47 337.73L586.90 330.22L587.34 322.70L587.77 315.19L588.21 307.71L588.64 300.26L589.08 292.86L589.51 285.53L589.95 278.27L590.38 271.10L590.82 264.04L591.25 257.09L591.68 250.27L592.12 243.58L592.55 237.06L592.99 230.69L593.42 224.50L593.86 218.50L594.29 212.70L594.73 207.10L595.16 201.72L595.60 196.57L596.03 191.66L596.47 186.99L596.90 182.58L597.33 178.42L597.77 174.54L598.20 170.93L598.64 167.61L599.07 164.57L599.51 161.83L599.94 159.38L600.38 157.24L600.81 155.40L601.25 153.87L601.68 152.65L602.11 151.75L602.55 151.16L602.98 150.89L603.42 150.93L603.85 151.29L604.29 151.96L604.72 152.95L605.16 154.25L605.59 155.85L606.03 157.76L606.46 159.97L606.89 162.48L607.33 165.29L607.76 168.38L608.20 171.75L608.63 175.39L609.07 179.31L609.50 183.48L609.94 187.91L610.37 192.58L610.81 197.48L611.24 202.62L611.68 207.97L612.11 213.53L612.54 219.28L612.98 225.22L613.41 231.34L613.85 237.62L614.28 244.05L614.72 250.63L615.15 257.33L615.59 264.15L616.02 271.07L616.46 278.08L616.89 285.17L617.32 292.33L617.76 299.53L618.19 306.78L618.63 314.05L619.06 321.34L619.50 328.62L619.93 335.89L620.37 343.13L620.80 350.33L621.24 357.48L621.67 364.56L622.10 371.56L622.54 378.47L622.97 385.27L623.41 391.96L623.84 398.52L624.28 404.94L624.71 411.20L625.15 417.30L625.58 423.23L626.02 428.97L626.45 434.52L626.89 439.86L627.32 444.98L627.75 449.88L628.19 454.55L628.62 458.98L629.06 463.15L629.49 467.07L629.93 470.73L630.36 474.12L630.80 477.23L631.23 480.06L631.67 482.60L632.10 484.85L632.53 486.81L632.97 488.47L633.40 489.83L633.84 490.89L634.27 491.64L634.71 492.09L635.14 492.23L635.58 492.06L636.01 491.59L636.45 490.82L636.88 489.74L637.32 488.36L637.75 486.68L638.18 484.71L638.62 482.45L639.05 479.90L639.49 477.07L639.92 473.97L640.36 470.59L640.79 466.95L641.23 463.06L641.66 458.91L642.10 454.52L642.53 449.90L642.96 445.05L643.40 439.99L643.83 434.72L644.27 429.26L644.70 423.60L645.14 417.78L645.57 411.78L646.01 405.63L646.44 399.34L646.88 392.92L647.31 386.38L647.74 379.72L648.18 372.98L648.61 366.15L649.05 359.25L649.48 352.29L649.92 345.29L650.35 338.25L650.79 331.20L651.22 324.14L651.66 317.08L652.09 310.04L652.53 303.04L652.96 296.08L653.39 289.17L653.83 282.34L654.26 275.59L654.70 268.93L655.13 262.38L655.57 255.95L656.00 249.64L656.44 243.48L656.87 237.47L657.31 231.63L657.74 225.95L658.17 220.46L658.61 215.17L659.04 210.07L659.48 205.19L659.91 200.53L660.35 196.10L660.78 191.91L661.22 187.96L661.65 184.26L662.09 180.83L662.52 177.65L662.95 174.74L663.39 172.11L663.82 169.76L664.26 167.69L664.69 165.91L665.13 164.42L665.56 163.22L666.00 162.32L666.43 161.71L666.87 161.39L667.30 161.38L667.74 161.66L668.17 162.23L668.60 163.10L669.04 164.27L669.47 165.72L669.91 167.46L670.34 169.49L670.78 171.79L671.21 174.37L671.65 177.23L672.08 180.34L672.52 183.72L672.95 187.35L673.38 191.22L673.82 195.34L674.25 199.68L674.69 204.25L675.12 209.04L675.56 214.02L675.99 219.21L676.43 224.58L676.86 230.13L677.30 235.85L677.73 241.72L678.16 247.74L678.60 253.89L679.03 260.16L679.47 266.55L679.90 273.03L680.34 279.61L680.77 286.26L681.21 292.97L681.64 299.73L682.08 306.53L682.51 313.36L682.95 320.21L683.38 327.05L683.81 333.88L684.25 340.69L684.68 347.47L685.12 354.19L685.55 360.86L685.99 367.45L686.42 373.96L686.86 380.37L687.29 386.68L687.73 392.86L688.16 398.92L688.59 404.83L689.03 410.60L689.46 416.20L689.90 421.62L690.33 426.87L690.77 431.93L691.20 436.78L691.64 441.42L692.07 445.85L692.51 450.05L692.94 454.02L693.37 457.75L693.81 461.24L694.24 464.47L694.68 467.44L695.11 470.15L695.55 472.59L695.98 474.76L696.42 476.65L696.85 478.26L697.29 479.60L697.72 480.64L698.16 481.41L698.59 481.88L699.02 482.07L699.46 481.97L699.89 481.58L700.33 480.90L700.76 479.94L701.20 478.70L701.63 477.18L702.07 475.38L702.50 473.31L702.94 470.96L703.37 468.36L703.80 465.49L704.24 462.36L704.67 458.99L705.11 455.38L705.54 451.52L705.98 447.44L706.41 443.14L706.85 438.63L707.28 433.91L707.72 429.00L708.15 423.90L708.58 418.62L709.02 413.17L709.45 407.57L709.89 401.82L710.32 395.93L710.76 389.92L711.19 383.79L711.63 377.56L712.06 371.24L712.50 364.84L712.93 358.37L713.37 351.84L713.80 345.27L714.23 338.66L714.67 332.04L715.10 325.40L715.54 318.77L715.97 312.16L716.41 305.57L716.84 299.02L717.28 292.52L717.71 286.09L718.15 279.73L718.58 273.46L719.01 267.28L719.45 261.22L719.88 255.27L720.32 249.45L720.75 243.78L721.19 238.26L721.62 232.90L722.06 227.70L722.49 222.69L722.93 217.87L723.36 213.25L723.80 208.83L724.23 204.63L724.66 200.64L725.10 196.89L725.53 193.37L725.97 190.09L726.40 187.06L726.84 184.28L727.27 181.76L727.71 179.50L728.14 177.51L728.58 175.78L729.01 174.33L729.44 173.15L729.88 172.25L730.31 171.62L730.75 171.27L731.18 171.20L731.62 171.41L732.05 171.90L732.49 172.67L732.92 173.71L733.36 175.02L733.79 176.61L734.22 178.46L734.66 180.58L735.09 182.95L735.53 185.58L735.96 188.46L736.40 191.59L736.83 194.96L737.27 198.55L737.70 202.38L738.14 206.42L738.57 210.67L739.01 215.13L739.44 219.78L739.87 224.62L740.31 229.63L740.74 234.82L741.18 240.16L741.61 245.65L742.05 251.27L742.48 257.03L742.92 262.91L743.35 268.89L743.79 274.96L744.22 281.12L744.65 287.36L745.09 293.65L745.52 300.00L745.96 306.38L746.39 312.80L746.83 319.22L747.26 325.65L747.70 332.08L748.13 338.48L748.57 344.85L749.00 351.18L749.43 357.45L749.87 363.66L750.30 369.79L750.74 375.84L751.17 381.78L751.61 387.62L752.04 393.33L752.48 398.91L752.91 404.35L753.35 409.65L753.78 414.78L754.22 419.74L754.65 424.52L755.08 429.12L755.52 433.52L755.95 437.72L756.39 441.71L756.82 445.48L757.26 449.03L757.69 452.35L758.13 455.43L758.56 458.27L759.00 460.86L759.43 463.20L759.86 465.29L760.30 467.12L760.73 468.68L761.17 469.98L761.60 471.02L762.04 471.78L762.47 472.28L762.91 472.51L763.34 472.47L763.78 472.15L764.21 471.57L764.64 470.72L765.08 469.60L765.51 468.22L765.95 466.58L766.38 464.68L766.82 462.53L767.25 460.13L767.69 457.48L768.12 454.59L768.56 451.46L768.99 448.11L769.43 444.53L769.86 440.74L770.29 436.74L770.73 432.53L771.16 428.14L771.60 423.55L772.03 418.80L772.47 413.87L772.90 408.78L773.34 403.54L773.77 398.17L774.21 392.66L774.64 387.03L775.07 381.30L775.51 375.46L775.94 369.54L776.38 363.53L776.81 357.47L777.25 351.34L777.68 345.17L778.12 338.97L778.55 332.75L778.99 326.52L779.42 320.29L779.85 314.07L780.29 307.87L780.72 301.71L781.16 295.60L781.59 289.54L782.03 283.55L782.46 277.64L782.90 271.82L783.33 266.10L783.77 260.49L784.20 255.01L784.64 249.65L785.07 244.43L785.50 239.36L785.94 234.46L786.37 229.71L786.81 225.15L787.24 220.77L787.68 216.58L788.11 212.59L788.55 208.81L788.98 205.24L789.42 201.89L789.85 198.77L790.28 195.88L790.72 193.22L791.15 190.81L791.59 188.64L792.02 186.71L792.46 185.05L792.89 183.63L793.33 182.47L793.76 181.58L794.20 180.94L794.63 180.56L795.06 180.45L795.50 180.60L795.93 181.00L796.37 181.67L796.80 182.60L797.24 183.79L797.67 185.23L798.11 186.92L798.54 188.86L798.98 191.05L799.41 193.48L799.85 196.14L800.28 199.03L800.71 202.15L801.15 205.49L801.58 209.04L802.02 212.80L802.45 216.76L802.89 220.91L803.32 225.25L803.76 229.76L804.19 234.44L804.63 239.28L805.06 244.27L805.49 249.40L805.93 254.67L806.36 260.05L806.80 265.55L807.23 271.15L807.67 276.85L808.10 282.62L808.54 288.46L808.97 294.37L809.41 300.32L809.84 306.32L810.27 312.34L810.71 318.37L811.14 324.42L811.58 330.45L812.01 336.47L812.45 342.47L812.88 348.42L813.32 354.33L813.75 360.17L814.19 365.95L814.62 371.64L815.06 377.24L815.49 382.75L815.92 388.14L816.36 393.41L816.79 398.54L817.23 403.54L817.66 408.39L818.10 413.09L818.53 417.61L818.97 421.97L819.40 426.14L819.84 430.12L820.27 433.91L820.70 437.49L821.14 440.86L821.57 444.02L822.01 446.96L822.44 449.67L822.88 452.15L823.31 454.40L823.75 456.40L824.18 458.17L824.62 459.69L825.05 460.96L825.49 461.98L825.92 462.74L826.35 463.26L826.79 463.52L827.22 463.53L827.66 463.28L828.09 462.78L828.53 462.03L828.96 461.03L829.40 459.78L829.83 458.29L830.27 456.55L830.70 454.57L831.13 452.36L831.57 449.91L832.00 447.24L832.44 444.34L832.87 441.23L833.31 437.91L833.74 434.39L834.18 430.66L834.61 426.75L835.05 422.65L835.48 418.38L835.91 413.94L836.35 409.34L836.78 404.59L837.22 399.69L837.65 394.67L838.09 389.51L838.52 384.25L838.96 378.88L839.39 373.41L839.83 367.86L840.26 362.24L840.70 356.55L841.13 350.80L841.56 345.01L842.00 339.19L842.43 333.35L842.87 327.49L843.30 321.64L843.74 315.79L844.17 309.97L844.61 304.17L845.04 298.42L845.48 292.72L845.91 287.08L846.34 281.51L846.78 276.02L847.21 270.63L847.65 265.34L848.08 260.16L848.52 255.10L848.95 250.18L849.39 245.39L849.82 240.75L850.26 236.26L850.69 231.94L851.12 227.79L851.56 223.82L851.99 220.04L852.43 216.45L852.86 213.06L853.30 209.87L853.73 206.90L854.17 204.14L854.60 201.60L855.04 199.29L855.47 197.20L855.91 195.35L856.34 193.74L856.77 192.37L857.21 191.23L857.64 190.34L858.08 189.70L858.51 189.30L858.95 189.14L859.38 189.23L859.82 189.57L860.25 190.15L860.69 190.98L861.12 192.05L861.55 193.36L861.99 194.90L862.42 196.68L862.86 198.69L863.29 200.93L863.73 203.39L864.16 206.07L864.60 208.96L865.03 212.06L865.47 215.36L865.90 218.85L866.33 222.54L866.77 226.40L867.20 230.44L867.64 234.65L868.07 239.02L868.51 243.54L868.94 248.20L869.38 253.00L869.81 257.92L870.25 262.96L870.68 268.11L871.12 273.35L871.55 278.69L871.98 284.10L872.42 289.58L872.85 295.11L873.29 300.70L873.72 306.32L874.16 311.98L874.59 317.65L875.03 323.32L875.46 329.00L875.90 334.66L876.33 340.29L876.76 345.90L877.20 351.45L877.63 356.96L878.07 362.40L878.50 367.76L878.94 373.04L879.37 378.23L879.81 383.32L880.24 388.29L880.68 393.14L881.11 397.86L881.54 402.45L881.98 406.89L882.41 411.17L882.85 415.29L883.28 419.24L883.72 423.02L884.15 426.61L884.59 430.01L885.02 433.22L885.46 436.23L885.89 439.03L886.33 441.62L886.76 443.99L887.19 446.14L887.63 448.07L888.06 449.77L888.50 451.24L888.93 452.48L889.37 453.48L889.80 454.25L890.24 454.78L890.67 455.07L891.11 455.12L891.54 454.94L891.97 454.51L892.41 453.85L892.84 452.96L893.28 451.83L893.71 450.46L894.15 448.87L894.58 447.06L895.02 445.02L895.45 442.76L895.89 440.29L896.32 437.61L896.75 434.73L897.19 431.65L897.62 428.37L898.06 424.91L898.49 421.26L898.93 417.45L899.36 413.46L899.80 409.32L900.23 405.03L900.67 400.59L901.10 396.02L901.54 391.31L901.97 386.50L902.40 381.57L902.84 376.54L903.27 371.42L903.71 366.22L904.14 360.95L904.58 355.61L905.01 350.22L905.45 344.79L905.88 339.33L906.32 333.84L906.75 328.34L907.18 322.84L907.62 317.35L908.05 311.87L908.49 306.42L908.92 301.00L909.36 295.64L909.79 290.32L910.23 285.08L910.66 279.91L911.10 274.83L911.53 269.84L911.97 264.95L912.40 260.18L912.83 255.53L913.27 251.00L913.70 246.61L914.14 242.37L914.57 238.28L915.01 234.35L915.44 230.59L915.88 227.00L916.31 223.59L916.75 220.37L917.18 217.34L917.61 214.51L918.05 211.88L918.48 209.45L918.92 207.24L919.35 205.24L919.79 203.46L920.22 201.90L920.66 200.57L921.09 199.46L921.53 198.58L921.96 197.93L922.39 197.51L922.83 197.32L923.26 197.36L923.70 197.63L924.13 198.14L924.57 198.87L925.00 199.83L925.44 201.02L925.87 202.43L926.31 204.06L926.74 205.91L927.18 207.97L927.61 210.24L928.04 212.72L928.48 215.39L928.91 218.27L929.35 221.33L929.78 224.58L930.22 228.01L930.65 231.61L931.09 235.38L931.52 239.30L931.96 243.38L932.39 247.60L932.82 251.95L933.26 256.44L933.69 261.04L934.13 265.76L934.56 270.57L935.00 275.48L935.43 280.48L935.87 285.55L936.30 290.69L936.74 295.88L937.17 301.12L937.60 306.40L938.04 311.70L938.47 317.03L938.91 322.36L939.34 327.69L939.78 333.01L940.21 338.31L940.65 343.58L941.08 348.82L941.52 354.00L941.95 359.12L942.39 364.17L942.82 369.15L943.25 374.04L943.69 378.84L944.12 383.53L944.56 388.11L944.99 392.57L945.43 396.91L945.86 401.10L946.30 405.16L946.73 409.06L947.17 412.80L947.60 416.38" stroke="#000" stroke-width="3.4" fill="none" stroke-linejoin="round" stroke-linecap="round"/>
<path d="M165.80 183.65L166.24 193.09L166.67 202.76L167.11 212.65L167.54 222.73L167.98 232.98L168.41 243.39L168.85 253.94L169.28 264.61L169.71 275.37L170.15 286.21L170.58 297.11L171.02 308.05L171.45 319.01L171.89 329.96L172.32 340.89L172.76 351.78L173.19 362.61L173.63 373.35L174.06 383.99L174.50 394.51L174.93 404.89L175.36 415.11L175.80 425.15L176.23 435.00L176.67 444.63L177.10 454.03L177.54 463.18L177.97 472.06L178.41 480.66L178.84 488.97L179.28 496.97L179.71 504.63L180.14 511.96L180.58 518.94L181.01 525.55L181.45 531.78L181.88 537.62L182.32 543.07L182.75 548.10L183.19 552.72L183.62 556.92L184.06 560.68L184.49 564.00L184.92 566.88L185.36 569.31L185.79 571.28L186.23 572.80L186.66 573.86L187.10 574.46L187.53 574.60L187.97 574.28L188.40 573.50L188.84 572.26L189.27 570.56L189.71 568.42L190.14 565.82L190.57 562.79L191.01 559.32L191.44 555.42L191.88 551.10L192.31 546.36L192.75 541.23L193.18 535.70L193.62 529.78L194.05 523.49L194.49 516.85L194.92 509.85L195.35 502.52L195.79 494.88L196.22 486.92L196.66 478.67L197.09 470.15L197.53 461.37L197.96 452.35L198.40 443.09L198.83 433.63L199.27 423.98L199.70 414.15L200.13 404.17L200.57 394.05L201.00 383.82L201.44 373.48L201.87 363.06L202.31 352.59L202.74 342.07L203.18 331.53L203.61 320.98L204.05 310.45L204.48 299.96L204.92 289.52L205.35 279.16L205.78 268.89L206.22 258.73L206.65 248.71L207.09 238.83L207.52 229.11L207.96 219.59L208.39 210.26L208.83 201.15L209.26 192.28L209.70 183.66L210.13 175.31L210.56 167.23L211.00 159.46L211.43 151.99L211.87 144.85L212.30 138.05L212.74 131.59L213.17 125.49L213.61 119.77L214.04 114.42L214.48 109.47L214.91 104.91L215.34 100.77L215.78 97.03L216.21 93.72L216.65 90.84L217.08 88.38L217.52 86.36L217.95 84.78L218.39 83.64L218.82 82.95L219.26 82.70L219.69 82.89L220.13 83.52L220.56 84.59L220.99 86.11L221.43 88.05L221.86 90.43L222.30 93.24L222.73 96.47L223.17 100.11L223.60 104.16L224.04 108.61L224.47 113.45L224.91 118.67L225.34 124.26L225.77 130.21L226.21 136.52L226.64 143.16L227.08 150.12L227.51 157.40L227.95 164.98L228.38 172.84L228.82 180.97L229.25 189.35L229.69 197.97L230.12 206.82L230.55 215.87L230.99 225.11L231.42 234.52L231.86 244.09L232.29 253.79L232.73 263.61L233.16 273.53L233.60 283.53L234.03 293.60L234.47 303.71L234.90 313.85L235.34 324.00L235.77 334.13L236.20 344.24L236.64 354.30L237.07 364.29L237.51 374.19L237.94 384.00L238.38 393.68L238.81 403.23L239.25 412.62L239.68 421.83L240.12 430.86L240.55 439.68L240.98 448.28L241.42 456.64L241.85 464.74L242.29 472.59L242.72 480.14L243.16 487.41L243.59 494.36L244.03 501.00L244.46 507.30L244.90 513.26L245.33 518.87L245.76 524.11L246.20 528.98L246.63 533.46L247.07 537.56L247.50 541.26L247.94 544.55L248.37 547.44L248.81 549.91L249.24 551.97L249.68 553.60L250.11 554.81L250.55 555.60L250.98 555.96L251.41 555.89L251.85 555.39L252.28 554.48L252.72 553.13L253.15 551.37L253.59 549.19L254.02 546.61L254.46 543.61L254.89 540.21L255.33 536.42L255.76 532.25L256.19 527.69L256.63 522.77L257.06 517.48L257.50 511.85L257.93 505.88L258.37 499.57L258.80 492.96L259.24 486.04L259.67 478.82L260.11 471.33L260.54 463.58L260.97 455.58L261.41 447.35L261.84 438.90L262.28 430.24L262.71 421.41L263.15 412.40L263.58 403.23L264.02 393.93L264.45 384.52L264.89 375.00L265.32 365.40L265.76 355.73L266.19 346.01L266.62 336.27L267.06 326.51L267.49 316.75L267.93 307.03L268.36 297.34L268.80 287.71L269.23 278.16L269.67 268.70L270.10 259.35L270.54 250.13L270.97 241.06L271.40 232.15L271.84 223.42L272.27 214.88L272.71 206.55L273.14 198.45L273.58 190.58L274.01 182.97L274.45 175.63L274.88 168.56L275.32 161.79L275.75 155.33L276.19 149.18L276.62 143.36L277.05 137.87L277.49 132.74L277.92 127.96L278.36 123.54L278.79 119.50L279.23 115.84L279.66 112.57L280.10 109.68L280.53 107.20L280.97 105.11L281.40 103.43L281.83 102.16L282.27 101.29L282.70 100.84L283.14 100.79L283.57 101.16L284.01 101.93L284.44 103.11L284.88 104.70L285.31 106.68L285.75 109.07L286.18 111.84L286.61 115.01L287.05 118.55L287.48 122.47L287.92 126.75L288.35 131.39L288.79 136.38L289.22 141.71L289.66 147.36L290.09 153.34L290.53 159.62L290.96 166.20L291.40 173.06L291.83 180.19L292.26 187.58L292.70 195.21L293.13 203.07L293.57 211.14L294.00 219.41L294.44 227.86L294.87 236.48L295.31 245.25L295.74 254.16L296.18 263.19L296.61 272.32L297.04 281.53L297.48 290.81L297.91 300.14L298.35 309.51L298.78 318.89L299.22 328.27L299.65 337.63L300.09 346.96L300.52 356.23L300.96 365.44L301.39 374.56L301.82 383.58L302.26 392.47L302.69 401.24L303.13 409.85L303.56 418.29L304.00 426.55L304.43 434.62L304.87 442.47L305.30 450.09L305.74 457.48L306.17 464.61L306.61 471.47L307.04 478.06L307.47 484.36L307.91 490.35L308.34 496.04L308.78 501.40L309.21 506.43L309.65 511.11L310.08 515.45L310.52 519.44L310.95 523.05L311.39 526.30L311.82 529.18L312.25 531.67L312.69 533.78L313.12 535.50L313.56 536.83L313.99 537.77L314.43 538.31L314.86 538.46L315.30 538.22L315.73 537.58L316.17 536.55L316.60 535.13L317.03 533.32L317.47 531.14L317.90 528.57L318.34 525.63L318.77 522.32L319.21 518.65L319.64 514.63L320.08 510.26L320.51 505.55L320.95 500.52L321.38 495.16L321.82 489.50L322.25 483.54L322.68 477.29L323.12 470.77L323.55 463.98L323.99 456.95L324.42 449.67L324.86 442.18L325.29 434.47L325.73 426.57L326.16 418.49L326.60 410.25L327.03 401.85L327.46 393.32L327.90 384.68L328.33 375.93L328.77 367.09L329.20 358.19L329.64 349.23L330.07 340.23L330.51 331.22L330.94 322.20L331.38 313.19L331.81 304.22L332.24 295.29L332.68 286.42L333.11 277.63L333.55 268.93L333.98 260.35L334.42 251.89L334.85 243.57L335.29 235.41L335.72 227.42L336.16 219.62L336.59 212.02L337.03 204.63L337.46 197.47L337.89 190.55L338.33 183.88L338.76 177.47L339.20 171.34L339.63 165.50L340.07 159.96L340.50 154.72L340.94 149.80L341.37 145.21L341.81 140.94L342.24 137.02L342.67 133.45L343.11 130.23L343.54 127.37L343.98 124.88L344.41 122.75L344.85 120.99L345.28 119.61L345.72 118.61L346.15 117.99L346.59 117.74L347.02 117.87L347.45 118.38L347.89 119.27L348.32 120.54L348.76 122.17L349.19 124.18L349.63 126.55L350.06 129.28L350.50 132.36L350.93 135.79L351.37 139.57L351.80 143.68L352.24 148.12L352.67 152.87L353.10 157.93L353.54 163.30L353.97 168.95L354.41 174.88L354.84 181.08L355.28 187.53L355.71 194.23L356.15 201.16L356.58 208.31L357.02 215.66L357.45 223.20L357.88 230.92L358.32 238.80L358.75 246.83L359.19 254.99L359.62 263.27L360.06 271.66L360.49 280.13L360.93 288.67L361.36 297.26L361.80 305.90L362.23 314.56L362.67 323.22L363.10 331.88L363.53 340.52L363.97 349.11L364.40 357.65L364.84 366.12L365.27 374.50L365.71 382.78L366.14 390.94L366.58 398.97L367.01 406.86L367.45 414.58L367.88 422.12L368.31 429.48L368.75 436.64L369.18 443.58L369.62 450.30L370.05 456.77L370.49 462.99L370.92 468.95L371.36 474.64L371.79 480.05L372.23 485.16L372.66 489.97L373.09 494.47L373.53 498.65L373.96 502.51L374.40 506.03L374.83 509.22L375.27 512.06L375.70 514.55L376.14 516.69L376.57 518.47L377.01 519.90L377.44 520.96L377.88 521.66L378.31 521.99L378.74 521.96L379.18 521.57L379.61 520.81L380.05 519.69L380.48 518.22L380.92 516.39L381.35 514.20L381.79 511.67L382.22 508.80L382.66 505.59L383.09 502.05L383.52 498.19L383.96 494.01L384.39 489.53L384.83 484.74L385.26 479.67L385.70 474.31L386.13 468.68L386.57 462.80L387.00 456.66L387.44 450.29L387.87 443.69L388.30 436.88L388.74 429.87L389.17 422.67L389.61 415.30L390.04 407.77L390.48 400.09L390.91 392.29L391.35 384.36L391.78 376.33L392.22 368.22L392.65 360.03L393.09 351.79L393.52 343.50L393.95 335.19L394.39 326.86L394.82 318.54L395.26 310.24L395.69 301.97L396.13 293.75L396.56 285.60L397.00 277.52L397.43 269.54L397.87 261.67L398.30 253.92L398.73 246.31L399.17 238.85L399.60 231.55L400.04 224.43L400.47 217.51L400.91 210.78L401.34 204.27L401.78 197.99L402.21 191.95L402.65 186.15L403.08 180.62L403.51 175.35L403.95 170.36L404.38 165.66L404.82 161.26L405.25 157.16L405.69 153.37L406.12 149.90L406.56 146.75L406.99 143.93L407.43 141.45L407.86 139.30L408.30 137.50L408.73 136.04L409.16 134.92L409.60 134.16L410.03 133.74L410.47 133.68L410.90 133.96L411.34 134.59L411.77 135.57L412.21 136.90L412.64 138.56L413.08 140.57L413.51 142.91L413.94 145.58L414.38 148.58L414.81 151.89L415.25 155.52L415.68 159.45L416.12 163.68L416.55 168.20L416.99 173.00L417.42 178.07L417.86 183.41L418.29 188.99L418.72 194.82L419.16 200.88L419.59 207.16L420.03 213.65L420.46 220.33L420.90 227.19L421.33 234.23L421.77 241.42L422.20 248.76L422.64 256.22L423.07 263.80L423.51 271.49L423.94 279.26L424.37 287.11L424.81 295.01L425.24 302.96L425.68 310.94L426.11 318.93L426.55 326.92L426.98 334.90L427.42 342.85L427.85 350.76L428.29 358.61L428.72 366.38L429.15 374.07L429.59 381.66L430.02 389.14L430.46 396.48L430.89 403.69L431.33 410.74L431.76 417.62L432.20 424.32L432.63 430.83L433.07 437.14L433.50 443.23L433.93 449.10L434.37 454.73L434.80 460.11L435.24 465.24L435.67 470.10L436.11 474.69L436.54 478.99L436.98 483.01L437.41 486.73L437.85 490.14L438.28 493.25L438.72 496.04L439.15 498.52L439.58 500.66L440.02 502.49L440.45 503.98L440.89 505.14L441.32 505.96L441.76 506.45L442.19 506.61L442.63 506.42L443.06 505.91L443.50 505.06L443.93 503.87L444.36 502.36L444.80 500.52L445.23 498.36L445.67 495.88L446.10 493.09L446.54 489.99L446.97 486.59L447.41 482.89L447.84 478.91L448.28 474.64L448.71 470.11L449.15 465.31L449.58 460.25L450.01 454.95L450.45 449.42L450.88 443.66L451.32 437.69L451.75 431.51L452.19 425.14L452.62 418.60L453.06 411.89L453.49 405.02L453.93 398.02L454.36 390.88L454.79 383.63L455.23 376.28L455.66 368.84L456.10 361.33L456.53 353.75L456.97 346.13L457.40 338.48L457.84 330.81L458.27 323.13L458.71 315.47L459.14 307.83L459.57 300.22L460.01 292.67L460.44 285.19L460.88 277.78L461.31 270.47L461.75 263.26L462.18 256.18L462.62 249.22L463.05 242.41L463.49 235.76L463.92 229.28L464.36 222.98L464.79 216.87L465.22 210.97L465.66 205.28L466.09 199.81L466.53 194.58L466.96 189.59L467.40 184.85L467.83 180.38L468.27 176.17L468.70 172.24L469.14 168.59L469.57 165.23L470.00 162.17L470.44 159.41L470.87 156.95L471.31 154.81L471.74 152.97L472.18 151.46L472.61 150.26L473.05 149.38L473.48 148.82L473.92 148.59L474.35 148.67L474.78 149.08L475.22 149.81L475.65 150.86L476.09 152.23L476.52 153.91L476.96 155.90L477.39 158.20L477.83 160.80L478.26 163.69L478.70 166.88L479.13 170.35L479.57 174.10L480.00 178.13L480.43 182.41L480.87 186.95L481.30 191.74L481.74 196.76L482.17 202.01L482.61 207.48L483.04 213.16L483.48 219.04L483.91 225.10L484.35 231.33L484.78 237.73L485.21 244.28L485.65 250.97L486.08 257.79L486.52 264.72L486.95 271.75L487.39 278.87L487.82 286.06L488.26 293.32L488.69 300.62L489.13 307.96L489.56 315.32L489.99 322.68L490.43 330.04L490.86 337.38L491.30 344.69L491.73 351.95L492.17 359.15L492.60 366.28L493.04 373.32L493.47 380.27L493.91 387.10L494.34 393.81L494.78 400.38L495.21 406.81L495.64 413.07L496.08 419.17L496.51 425.08L496.95 430.80L497.38 436.32L497.82 441.62L498.25 446.70L498.69 451.56L499.12 456.17L499.56 460.53L499.99 464.64L500.42 468.48L500.86 472.05L501.29 475.35L501.73 478.37L502.16 481.10L502.60 483.53L503.03 485.67L503.47 487.51L503.90 489.05L504.34 490.29L504.77 491.21L505.20 491.83L505.64 492.14L506.07 492.14L506.51 491.83L506.94 491.21L507.38 490.28L507.81 489.05L508.25 487.52L508.68 485.69L509.12 483.57L509.55 481.15L509.99 478.45L510.42 475.47L510.85 472.21L511.29 468.68L511.72 464.89L512.16 460.85L512.59 456.56L513.03 452.03L513.46 447.27L513.90 442.28L514.33 437.09L514.77 431.70L515.20 426.11L515.63 420.34L516.07 414.40L516.50 408.30L516.94 402.06L517.37 395.67L517.81 389.17L518.24 382.55L518.68 375.82L519.11 369.02L519.55 362.13L519.98 355.19L520.41 348.19L520.85 341.16L521.28 334.10L521.72 327.04L522.15 319.97L522.59 312.93L523.02 305.91L523.46 298.93L523.89 292.00L524.33 285.14L524.76 278.36L525.20 271.67L525.63 265.09L526.06 258.62L526.50 252.28L526.93 246.07L527.37 240.02L527.80 234.13L528.24 228.41L528.67 222.87L529.11 217.52L529.54 212.38L529.98 207.44L530.41 202.73L530.84 198.24L531.28 193.99L531.71 189.99L532.15 186.23L532.58 182.73L533.02 179.50L533.45 176.53L533.89 173.84L534.32 171.42L534.76 169.29L535.19 167.45L535.62 165.90L536.06 164.63L536.49 163.67L536.93 162.99L537.36 162.62L537.80 162.54L538.23 162.76L538.67 163.27L539.10 164.08L539.54 165.18L539.97 166.57L540.41 168.25L540.84 170.21L541.27 172.45L541.71 174.97L542.14 177.76L542.58 180.82L543.01 184.13L543.45 187.70L543.88 191.51L544.32 195.57L544.75 199.85L545.19 204.36L545.62 209.08L546.05 214.00L546.49 219.13L546.92 224.44L547.36 229.93L547.79 235.58L548.23 241.39L548.66 247.34L549.10 253.43L549.53 259.64L549.97 265.96L550.40 272.38L550.84 278.89L551.27 285.48L551.70 292.12L552.14 298.82L552.57 305.56L553.01 312.32L553.44 319.09L553.88 325.87L554.31 332.64L554.75 339.38L555.18 346.08L555.62 352.74L556.05 359.34L556.48 365.86L556.92 372.30L557.35 378.64L557.79 384.88L558.22 391.00L558.66 396.98L559.09 402.83L559.53 408.52L559.96 414.05L560.40 419.41L560.83 424.59L561.26 429.58L561.70 434.36L562.13 438.94L562.57 443.30L563.00 447.44L563.44 451.35L563.87 455.02L564.31 458.44L564.74 461.61L565.18 464.52L565.61 467.18L566.05 469.56L566.48 471.68L566.91 473.52L567.35 475.09L567.78 476.37L568.22 477.38L568.65 478.10L569.09 478.54L569.52 478.69L569.96 478.56L570.39 478.14L570.83 477.44L571.26 476.46L571.69 475.20L572.13 473.67L572.56 471.86L573.00 469.78L573.43 467.44L573.87 464.83L574.30 461.97L574.74 458.86L575.17 455.50L575.61 451.91L576.04 448.08L576.47 444.03L576.91 439.77L577.34 435.30L577.78 430.63L578.21 425.76L578.65 420.72L579.08 415.50L579.52 410.12L579.95 404.59L580.39 398.92L580.82 393.12L581.26 387.19L581.69 381.16L582.12 375.03L582.56 368.81L582.99 362.51L583.43 356.15L583.86 349.75L584.30 343.30L584.73 336.82L585.17 330.32L585.60 323.83L586.04 317.33L586.47 310.86L586.90 304.42L587.34 298.03L587.77 291.69L588.21 285.41L588.64 279.21L589.08 273.11L589.51 267.10L589.95 261.20L590.38 255.43L590.82 249.79L591.25 244.29L591.68 238.94L592.12 233.76L592.55 228.75L592.99 223.92L593.42 219.27L593.86 214.83L594.29 210.59L594.73 206.57L595.16 202.76L595.60 199.18L596.03 195.84L596.47 192.73L596.90 189.87L597.33 187.26L597.77 184.90L598.20 182.80L598.64 180.97L599.07 179.39L599.51 178.09L599.94 177.05L600.38 176.29L600.81 175.79L601.25 175.57L601.68 175.63L602.11 175.95L602.55 176.55L602.98 177.42L603.42 178.55L603.85 179.95L604.29 181.62L604.72 183.54L605.16 185.72L605.59 188.15L606.03 190.83L606.46 193.74L606.89 196.90L607.33 200.28L607.76 203.89L608.20 207.71L608.63 211.75L609.07 215.98L609.50 220.41L609.94 225.02L610.37 229.81L610.81 234.77L611.24 239.88L611.68 245.15L612.11 250.55L612.54 256.08L612.98 261.73L613.41 267.48L613.85 273.34L614.28 279.28L614.72 285.29L615.15 291.37L615.59 297.50L616.02 303.67L616.46 309.88L616.89 316.10L617.32 322.33L617.76 328.55L618.19 334.76L618.63 340.94L619.06 347.08L619.50 353.18L619.93 359.21L620.37 365.17L620.80 371.05L621.24 376.83L621.67 382.51L622.10 388.08L622.54 393.52L622.97 398.83L623.41 403.99L623.84 409.00L624.28 413.85L624.71 418.53L625.15 423.03L625.58 427.34L626.02 431.46L626.45 435.37L626.89 439.07L627.32 442.56L627.75 445.83L628.19 448.87L628.62 451.67L629.06 454.24L629.49 456.57L629.93 458.65L630.36 460.48L630.80 462.05L631.23 463.37L631.67 464.43L632.10 465.24L632.53 465.78L632.97 466.06L633.40 466.08L633.84 465.84L634.27 465.34L634.71 464.58L635.14 463.56L635.58 462.28L636.01 460.76L636.45 458.98L636.88 456.96L637.32 454.69L637.75 452.19L638.18 449.46L638.62 446.49L639.05 443.31L639.49 439.91L639.92 436.30L640.36 432.49L640.79 428.48L641.23 424.29L641.66 419.92L642.10 415.37L642.53 410.66L642.96 405.80L643.40 400.80L643.83 395.66L644.27 390.39L644.70 385.01L645.14 379.52L645.57 373.93L646.01 368.26L646.44 362.52L646.88 356.71L647.31 350.85L647.74 344.94L648.18 339.00L648.61 333.05L649.05 327.08L649.48 321.11L649.92 315.16L650.35 309.23L650.79 303.33L651.22 297.48L651.66 291.68L652.09 285.95L652.53 280.30L652.96 274.73L653.39 269.26L653.83 263.90L654.26 258.65L654.70 253.53L655.13 248.54L655.57 243.70L656.00 239.01L656.44 234.48L656.87 230.13L657.31 225.95L657.74 221.95L658.17 218.15L658.61 214.55L659.04 211.15L659.48 207.96L659.91 204.99L660.35 202.24L660.78 199.72L661.22 197.43L661.65 195.37L662.09 193.55L662.52 191.98L662.95 190.65L663.39 189.56L663.82 188.73L664.26 188.14L664.69 187.80L665.13 187.72L665.56 187.88L666.00 188.29L666.43 188.96L666.87 189.87L667.30 191.02L667.74 192.42L668.17 194.06L668.60 195.93L669.04 198.04L669.47 200.37L669.91 202.93L670.34 205.71L670.78 208.71L671.21 211.91L671.65 215.31L672.08 218.91L672.52 222.70L672.95 226.67L673.38 230.81L673.82 235.12L674.25 239.59L674.69 244.21L675.12 248.97L675.56 253.86L675.99 258.87L676.43 264.00L676.86 269.23L677.30 274.56L677.73 279.97L678.16 285.45L678.60 291.00L679.03 296.60L679.47 302.25L679.90 307.93L680.34 313.63L680.77 319.35L681.21 325.06L681.64 330.77L682.08 336.46L682.51 342.12L682.95 347.73L683.38 353.30L683.81 358.81L684.25 364.25L684.68 369.60L685.12 374.87L685.55 380.03L685.99 385.09L686.42 390.03L686.86 394.84L687.29 399.52L687.73 404.05L688.16 408.43L688.59 412.64L689.03 416.69L689.46 420.57L689.90 424.26L690.33 427.76L690.77 431.07L691.20 434.18L691.64 437.08L692.07 439.77L692.51 442.25L692.94 444.50L693.37 446.53L693.81 448.34L694.24 449.91L694.68 451.24L695.11 452.35L695.55 453.21L695.98 453.84L696.42 454.23L696.85 454.37L697.29 454.28L697.72 453.95L698.16 453.38L698.59 452.57L699.02 451.53L699.46 450.25L699.89 448.75L700.33 447.01L700.76 445.05L701.20 442.88L701.63 440.48L702.07 437.88L702.50 435.06L702.94 432.05L703.37 428.84L703.80 425.44L704.24 421.87L704.67 418.11L705.11 414.19L705.54 410.10L705.98 405.86L706.41 401.48L706.85 396.96L707.28 392.31L707.72 387.54L708.15 382.65L708.58 377.67L709.02 372.59L709.45 367.43L709.89 362.20L710.32 356.90L710.76 351.55L711.19 346.15L711.63 340.72L712.06 335.27L712.50 329.80L712.93 324.32L713.37 318.85L713.80 313.40L714.23 307.97L714.67 302.58L715.10 297.24L715.54 291.95L715.97 286.72L716.41 281.57L716.84 276.51L717.28 271.53L717.71 266.66L718.15 261.90L718.58 257.26L719.01 252.75L719.45 248.37L719.88 244.14L720.32 240.06L720.75 236.14L721.19 232.38L721.62 228.80L722.06 225.39L722.49 222.17L722.93 219.15L723.36 216.31L723.80 213.68L724.23 211.26L724.66 209.04L725.10 207.04L725.53 205.26L725.97 203.69L726.40 202.35L726.84 201.23L727.27 200.34L727.71 199.68L728.14 199.25L728.58 199.04L729.01 199.07L729.44 199.33L729.88 199.81L730.31 200.52L730.75 201.46L731.18 202.62L731.62 204.01L732.05 205.61L732.49 207.43L732.92 209.46L733.36 211.69L733.79 214.13L734.22 216.77L734.66 219.61L735.09 222.63L735.53 225.83L735.96 229.21L736.40 232.76L736.83 236.48L737.27 240.35L737.70 244.37L738.14 248.53L738.57 252.82L739.01 257.24L739.44 261.78L739.87 266.42L740.31 271.17L740.74 276.00L741.18 280.92L741.61 285.91L742.05 290.97L742.48 296.08L742.92 301.24L743.35 306.43L743.79 311.64L744.22 316.88L744.65 322.12L745.09 327.36L745.52 332.58L745.96 337.78L746.39 342.95L746.83 348.08L747.26 353.16L747.70 358.18L748.13 363.13L748.57 368.00L749.00 372.79L749.43 377.48L749.87 382.07L750.30 386.54L750.74 390.89L751.17 395.12L751.61 399.21L752.04 403.15L752.48 406.95L752.91 410.59L753.35 414.06L753.78 417.37L754.22 420.50L754.65 423.44L755.08 426.21L755.52 428.78L755.95 431.15L756.39 433.33L756.82 435.30L757.26 437.06L757.69 438.62L758.13 439.96L758.56 441.09L759.00 442.00L759.43 442.69L759.86 443.16L760.30 443.42L760.73 443.45L761.17 443.26L761.60 442.86L762.04 442.24L762.47 441.40L762.91 440.34L763.34 439.08L763.78 437.60L764.21 435.92L764.64 434.03L765.08 431.94L765.51 429.66L765.95 427.18L766.38 424.52L766.82 421.67L767.25 418.65L767.69 415.46L768.12 412.11L768.56 408.60L768.99 404.93L769.43 401.12L769.86 397.18L770.29 393.10L770.73 388.91L771.16 384.59L771.60 380.17L772.03 375.66L772.47 371.05L772.90 366.36L773.34 361.61L773.77 356.78L774.21 351.90L774.64 346.98L775.07 342.02L775.51 337.04L775.94 332.03L776.38 327.02L776.81 322.00L777.25 317.00L777.68 312.01L778.12 307.06L778.55 302.14L778.99 297.26L779.42 292.44L779.85 287.69L780.29 283.00L780.72 278.40L781.16 273.89L781.59 269.47L782.03 265.16L782.46 260.96L782.90 256.89L783.33 252.94L783.77 249.12L784.20 245.45L784.64 241.93L785.07 238.56L785.50 235.36L785.94 232.32L786.37 229.45L786.81 226.76L787.24 224.25L787.68 221.92L788.11 219.79L788.55 217.85L788.98 216.11L789.42 214.57L789.85 213.23L790.28 212.09L790.72 211.17L791.15 210.45L791.59 209.94L792.02 209.64L792.46 209.55L792.89 209.67L793.33 210.00L793.76 210.54L794.20 211.29L794.63 212.24L795.06 213.40L795.50 214.76L795.93 216.32L796.37 218.07L796.80 220.02L797.24 222.15L797.67 224.47L798.11 226.97L798.54 229.64L798.98 232.49L799.41 235.50L799.85 238.67L800.28 241.99L800.71 245.45L801.15 249.06L801.58 252.80L802.02 256.67L802.45 260.65L802.89 264.75L803.32 268.95L803.76 273.25L804.19 277.63L804.63 282.09L805.06 286.63L805.49 291.23L805.93 295.88L806.36 300.58L806.80 305.32L807.23 310.08L807.67 314.87L808.10 319.66L808.54 324.46L808.97 329.25L809.41 334.02L809.84 338.77L810.27 343.49L810.71 348.17L811.14 352.79L811.58 357.36L812.01 361.86L812.45 366.28L812.88 370.62L813.32 374.87L813.75 379.03L814.19 383.07L814.62 387.00L815.06 390.81L815.49 394.50L815.92 398.05L816.36 401.46L816.79 404.72L817.23 407.83L817.66 410.78L818.10 413.57L818.53 416.19L818.97 418.64L819.40 420.91L819.84 423.00L820.27 424.90L820.70 426.62L821.14 428.15L821.57 429.48L822.01 430.62L822.44 431.56L822.88 432.30L823.31 432.84L823.75 433.18L824.18 433.32L824.62 433.26L825.05 433.00L825.49 432.54L825.92 431.87L826.35 431.01L826.79 429.96L827.22 428.71L827.66 427.27L828.09 425.64L828.53 423.83L828.96 421.84L829.40 419.67L829.83 417.32L830.27 414.81L830.70 412.13L831.13 409.30L831.57 406.31L832.00 403.17L832.44 399.89L832.87 396.48L833.31 392.93L833.74 389.27L834.18 385.49L834.61 381.60L835.05 377.60L835.48 373.52L835.91 369.35L836.35 365.10L836.78 360.78L837.22 356.40L837.65 351.96L838.09 347.48L838.52 342.95L838.96 338.40L839.39 333.83L839.83 329.25L840.26 324.66L840.70 320.08L841.13 315.51L841.56 310.96L842.00 306.44L842.43 301.95L842.87 297.52L843.30 293.13L843.74 288.81L844.17 284.56L844.61 280.39L845.04 276.30L845.48 272.30L845.91 268.40L846.34 264.61L846.78 260.94L847.21 257.38L847.65 253.95L848.08 250.66L848.52 247.50L848.95 244.48L849.39 241.62L849.82 238.91L850.26 236.36L850.69 233.98L851.12 231.76L851.56 229.71L851.99 227.84L852.43 226.15L852.86 224.64L853.30 223.32L853.73 222.18L854.17 221.23L854.60 220.47L855.04 219.90L855.47 219.52L855.91 219.34L856.34 219.34L856.77 219.54L857.21 219.93L857.64 220.51L858.08 221.28L858.51 222.24L858.95 223.39L859.38 224.71L859.82 226.22L860.25 227.91L860.69 229.77L861.12 231.80L861.55 234.00L861.99 236.36L862.42 238.87L862.86 241.54L863.29 244.36L863.73 247.33L864.16 250.42L864.60 253.66L865.03 257.01L865.47 260.48L865.90 264.07L866.33 267.76L866.77 271.55L867.20 275.44L867.64 279.40L868.07 283.45L868.51 287.56L868.94 291.73L869.38 295.96L869.81 300.24L870.25 304.55L870.68 308.89L871.12 313.26L871.55 317.64L871.98 322.03L872.42 326.41L872.85 330.78L873.29 335.14L873.72 339.47L874.16 343.77L874.59 348.02L875.03 352.23L875.46 356.38L875.90 360.46L876.33 364.47L876.76 368.40L877.20 372.25L877.63 376.00L878.07 379.65L878.50 383.19L878.94 386.62L879.37 389.94L879.81 393.12L880.24 396.18L880.68 399.10L881.11 401.87L881.54 404.50L881.98 406.98L882.41 409.31L882.85 411.47L883.28 413.47L883.72 415.30L884.15 416.97L884.59 418.46L885.02 419.77L885.46 420.91L885.89 421.86L886.33 422.64L886.76 423.23L887.19 423.64L887.63 423.87L888.06 423.91L888.50 423.77L888.93 423.45L889.37 422.94L889.80 422.25L890.24 421.39L890.67 420.34L891.11 419.12L891.54 417.72L891.97 416.16L892.41 414.42L892.84 412.53L893.28 410.47L893.71 408.25L894.15 405.89L894.58 403.37L895.02 400.72L895.45 397.92L895.89 394.99L896.32 391.94L896.75 388.77L897.19 385.47L897.62 382.07L898.06 378.57L898.49 374.97L898.93 371.29L899.36 367.52L899.80 363.67L900.23 359.76L900.67 355.78L901.10 351.75L901.54 347.68L901.97 343.56L902.40 339.42L902.84 335.25L903.27 331.07L903.71 326.88L904.14 322.69L904.58 318.50L905.01 314.33L905.45 310.19L905.88 306.07L906.32 301.99L906.75 297.96L907.18 293.98L907.62 290.06L908.05 286.21L908.49 282.43L908.92 278.73L909.36 275.12L909.79 271.61L910.23 268.19L910.66 264.88L911.10 261.69L911.53 258.61L911.97 255.66L912.40 252.83L912.83 250.14L913.27 247.59L913.70 245.18L914.14 242.92L914.57 240.81L915.01 238.86L915.44 237.06L915.88 235.43L916.31 233.96L916.75 232.66L917.18 231.52L917.61 230.56L918.05 229.77L918.48 229.16L918.92 228.72L919.35 228.46L919.79 228.37L920.22 228.46L920.66 228.72L921.09 229.16L921.53 229.77L921.96 230.55L922.39 231.50L922.83 232.63L923.26 233.91L923.70 235.37L924.13 236.98L924.57 238.75L925.00 240.68L925.44 242.75L925.87 244.98L926.31 247.34L926.74 249.84L927.18 252.48L927.61 255.24L928.04 258.13L928.48 261.13L928.91 264.25L929.35 267.47L929.78 270.79L930.22 274.20L930.65 277.70L931.09 281.29L931.52 284.94L931.96 288.66L932.39 292.45L932.82 296.28L933.26 300.17L933.69 304.09L934.13 308.04L934.56 312.02L935.00 316.01L935.43 320.01L935.87 324.02L936.30 328.02L936.74 332.01L937.17 335.97L937.60 339.91L938.04 343.82L938.47 347.69L938.91 351.50L939.34 355.26L939.78 358.96L940.21 362.59L940.65 366.15L941.08 369.62L941.52 373.00L941.95 376.29L942.39 379.48L942.82 382.56L943.25 385.54L943.69 388.39L944.12 391.12L944.56 393.73L944.99 396.20L945.43 398.54L945.86 400.74L946.30 402.79L946.73 404.70L947.17 406.46L947.60 408.06" stroke="#000" stroke-width="3.4" fill="none" stroke-linejoin="round" stroke-linecap="round"/>
<path d="M165.80 183.61L166.24 193.48L166.67 203.59L167.11 213.89L167.54 224.39L167.98 235.05L168.41 245.86L168.85 256.79L169.28 267.84L169.71 278.96L170.15 290.15L170.58 301.39L171.02 312.65L171.45 323.91L171.89 335.15L172.32 346.35L172.76 357.50L173.19 368.56L173.63 379.52L174.06 390.36L174.50 401.06L174.93 411.60L175.36 421.95L175.80 432.11L176.23 442.06L176.67 451.76L177.10 461.22L177.54 470.40L177.97 479.30L178.41 487.90L178.84 496.18L179.28 504.12L179.71 511.72L180.14 518.96L180.58 525.82L181.01 532.30L181.45 538.38L181.88 544.06L182.32 549.32L182.75 554.15L183.19 558.55L183.62 562.51L184.06 566.02L184.49 569.07L184.92 571.66L185.36 573.80L185.79 575.46L186.23 576.66L186.66 577.39L187.10 577.64L187.53 577.43L187.97 576.74L188.40 575.59L188.84 573.98L189.27 571.90L189.71 569.37L190.14 566.39L190.57 562.97L191.01 559.10L191.44 554.81L191.88 550.10L192.31 544.97L192.75 539.45L193.18 533.53L193.62 527.24L194.05 520.58L194.49 513.56L194.92 506.21L195.35 498.53L195.79 490.54L196.22 482.26L196.66 473.69L197.09 464.86L197.53 455.79L197.96 446.48L198.40 436.96L198.83 427.25L199.27 417.37L199.70 407.32L200.13 397.14L200.57 386.84L201.00 376.44L201.44 365.96L201.87 355.42L202.31 344.83L202.74 334.23L203.18 323.62L203.61 313.03L204.05 302.48L204.48 291.99L204.92 281.57L205.35 271.24L205.78 261.03L206.22 250.96L206.65 241.03L207.09 231.28L207.52 221.71L207.96 212.34L208.39 203.20L208.83 194.30L209.26 185.65L209.70 177.27L210.13 169.17L210.56 161.38L211.00 153.90L211.43 146.74L211.87 139.93L212.30 133.46L212.74 127.36L213.17 121.63L213.61 116.29L214.04 111.34L214.48 106.79L214.91 102.65L215.34 98.92L215.78 95.62L216.21 92.75L216.65 90.31L217.08 88.30L217.52 86.74L217.95 85.61L218.39 84.93L218.82 84.69L219.26 84.90L219.69 85.54L220.13 86.63L220.56 88.15L220.99 90.11L221.43 92.50L221.86 95.31L222.30 98.54L222.73 102.18L223.17 106.23L223.60 110.67L224.04 115.50L224.47 120.70L224.91 126.28L225.34 132.21L225.77 138.48L226.21 145.09L226.64 152.02L227.08 159.26L227.51 166.78L227.95 174.59L228.38 182.66L228.82 190.98L229.25 199.53L229.69 208.29L230.12 217.26L230.55 226.41L230.99 235.72L231.42 245.18L231.86 254.77L232.29 264.48L232.73 274.27L233.16 284.15L233.60 294.08L234.03 304.05L234.47 314.03L234.90 324.03L235.34 334.00L235.77 343.94L236.20 353.82L236.64 363.64L237.07 373.36L237.51 382.98L237.94 392.47L238.38 401.81L238.81 411.00L239.25 420.01L239.68 428.83L240.12 437.44L240.55 445.83L240.98 453.98L241.42 461.87L241.85 469.49L242.29 476.83L242.72 483.88L243.16 490.61L243.59 497.03L244.03 503.12L244.46 508.86L244.90 514.25L245.33 519.29L245.76 523.95L246.20 528.23L246.63 532.13L247.07 535.63L247.50 538.74L247.94 541.44L248.37 543.74L248.81 545.63L249.24 547.10L249.68 548.16L250.11 548.80L250.55 549.02L250.98 548.82L251.41 548.21L251.85 547.18L252.28 545.75L252.72 543.90L253.15 541.65L253.59 539.00L254.02 535.95L254.46 532.52L254.89 528.71L255.33 524.52L255.76 519.97L256.19 515.06L256.63 509.81L257.06 504.22L257.50 498.31L257.93 492.08L258.37 485.55L258.80 478.74L259.24 471.65L259.67 464.29L260.11 456.69L260.54 448.85L260.97 440.80L261.41 432.54L261.84 424.09L262.28 415.47L262.71 406.70L263.15 397.79L263.58 388.75L264.02 379.61L264.45 370.38L264.89 361.08L265.32 351.73L265.76 342.34L266.19 332.93L266.62 323.52L267.06 314.13L267.49 304.76L267.93 295.45L268.36 286.21L268.80 277.05L269.23 268.00L269.67 259.06L270.10 250.25L270.54 241.60L270.97 233.11L271.40 224.81L271.84 216.70L272.27 208.80L272.71 201.13L273.14 193.70L273.58 186.52L274.01 179.61L274.45 172.97L274.88 166.63L275.32 160.58L275.75 154.85L276.19 149.44L276.62 144.37L277.05 139.63L277.49 135.24L277.92 131.21L278.36 127.54L278.79 124.24L279.23 121.32L279.66 118.77L280.10 116.61L280.53 114.84L280.97 113.45L281.40 112.46L281.83 111.86L282.27 111.65L282.70 111.84L283.14 112.42L283.57 113.39L284.01 114.74L284.44 116.49L284.88 118.61L285.31 121.11L285.75 123.98L286.18 127.21L286.61 130.81L287.05 134.75L287.48 139.04L287.92 143.67L288.35 148.62L288.79 153.88L289.22 159.45L289.66 165.32L290.09 171.47L290.53 177.89L290.96 184.58L291.40 191.51L291.83 198.67L292.26 206.05L292.70 213.64L293.13 221.42L293.57 229.38L294.00 237.49L294.44 245.76L294.87 254.16L295.31 262.67L295.74 271.28L296.18 279.97L296.61 288.73L297.04 297.54L297.48 306.39L297.91 315.25L298.35 324.11L298.78 332.96L299.22 341.78L299.65 350.55L300.09 359.26L300.52 367.88L300.96 376.41L301.39 384.83L301.82 393.12L302.26 401.27L302.69 409.27L303.13 417.09L303.56 424.73L304.00 432.16L304.43 439.39L304.87 446.39L305.30 453.15L305.74 459.66L306.17 465.90L306.61 471.88L307.04 477.57L307.47 482.96L307.91 488.06L308.34 492.84L308.78 497.30L309.21 501.43L309.65 505.22L310.08 508.68L310.52 511.78L310.95 514.54L311.39 516.93L311.82 518.96L312.25 520.63L312.69 521.93L313.12 522.87L313.56 523.43L313.99 523.62L314.43 523.44L314.86 522.90L315.30 521.98L315.73 520.70L316.17 519.06L316.60 517.06L317.03 514.70L317.47 511.99L317.90 508.94L318.34 505.56L318.77 501.84L319.21 497.80L319.64 493.44L320.08 488.77L320.51 483.81L320.95 478.56L321.38 473.03L321.82 467.24L322.25 461.19L322.68 454.89L323.12 448.36L323.55 441.61L323.99 434.66L324.42 427.51L324.86 420.18L325.29 412.69L325.73 405.04L326.16 397.25L326.60 389.34L327.03 381.32L327.46 373.21L327.90 365.02L328.33 356.77L328.77 348.47L329.20 340.14L329.64 331.79L330.07 323.44L330.51 315.11L330.94 306.80L331.38 298.54L331.81 290.34L332.24 282.22L332.68 274.18L333.11 266.25L333.55 258.45L333.98 250.77L334.42 243.24L334.85 235.87L335.29 228.68L335.72 221.68L336.16 214.87L336.59 208.28L337.03 201.92L337.46 195.79L337.89 189.90L338.33 184.28L338.76 178.92L339.20 173.84L339.63 169.04L340.07 164.54L340.50 160.34L340.94 156.46L341.37 152.88L341.81 149.63L342.24 146.71L342.67 144.12L343.11 141.86L343.54 139.95L343.98 138.38L344.41 137.16L344.85 136.28L345.28 135.75L345.72 135.58L346.15 135.75L346.59 136.26L347.02 137.13L347.45 138.34L347.89 139.89L348.32 141.77L348.76 143.99L349.19 146.55L349.63 149.42L350.06 152.61L350.50 156.12L350.93 159.93L351.37 164.03L351.80 168.43L352.24 173.10L352.67 178.05L353.10 183.26L353.54 188.72L353.97 194.42L354.41 200.35L354.84 206.50L355.28 212.86L355.71 219.41L356.15 226.15L356.58 233.05L357.02 240.12L357.45 247.32L357.88 254.66L358.32 262.11L358.75 269.66L359.19 277.30L359.62 285.01L360.06 292.79L360.49 300.60L360.93 308.45L361.36 316.32L361.80 324.18L362.23 332.03L362.67 339.85L363.10 347.63L363.53 355.36L363.97 363.01L364.40 370.58L364.84 378.04L365.27 385.40L365.71 392.63L366.14 399.72L366.58 406.66L367.01 413.43L367.45 420.03L367.88 426.43L368.31 432.64L368.75 438.64L369.18 444.41L369.62 449.95L370.05 455.25L370.49 460.29L370.92 465.08L371.36 469.59L371.79 473.83L372.23 477.78L372.66 481.44L373.09 484.81L373.53 487.87L373.96 490.62L374.40 493.06L374.83 495.18L375.27 496.98L375.70 498.45L376.14 499.60L376.57 500.43L377.01 500.92L377.44 501.09L377.88 500.93L378.31 500.44L378.74 499.62L379.18 498.48L379.61 497.02L380.05 495.24L380.48 493.14L380.92 490.74L381.35 488.03L381.79 485.02L382.22 481.72L382.66 478.13L383.09 474.26L383.52 470.12L383.96 465.71L384.39 461.05L384.83 456.14L385.26 451.00L385.70 445.62L386.13 440.03L386.57 434.24L387.00 428.25L387.44 422.08L387.87 415.73L388.30 409.23L388.74 402.57L389.17 395.79L389.61 388.88L390.04 381.86L390.48 374.74L390.91 367.55L391.35 360.28L391.78 352.96L392.22 345.59L392.65 338.20L393.09 330.80L393.52 323.39L393.95 315.99L394.39 308.62L394.82 301.30L395.26 294.02L395.69 286.81L396.13 279.69L396.56 272.65L397.00 265.73L397.43 258.92L397.87 252.24L398.30 245.70L398.73 239.33L399.17 233.11L399.60 227.08L400.04 221.23L400.47 215.59L400.91 210.15L401.34 204.94L401.78 199.95L402.21 195.20L402.65 190.69L403.08 186.44L403.51 182.45L403.95 178.73L404.38 175.28L404.82 172.12L405.25 169.24L405.69 166.65L406.12 164.35L406.56 162.36L406.99 160.66L407.43 159.27L407.86 158.19L408.30 157.42L408.73 156.95L409.16 156.80L409.60 156.95L410.03 157.42L410.47 158.19L410.90 159.26L411.34 160.64L411.77 162.32L412.21 164.30L412.64 166.56L413.08 169.12L413.51 171.95L413.94 175.07L414.38 178.45L414.81 182.10L415.25 186.00L415.68 190.15L416.12 194.54L416.55 199.17L416.99 204.02L417.42 209.08L417.86 214.34L418.29 219.80L418.72 225.45L419.16 231.26L419.59 237.24L420.03 243.37L420.46 249.63L420.90 256.03L421.33 262.54L421.77 269.15L422.20 275.85L422.64 282.63L423.07 289.48L423.51 296.37L423.94 303.31L424.37 310.27L424.81 317.25L425.24 324.23L425.68 331.19L426.11 338.13L426.55 345.03L426.98 351.89L427.42 358.68L427.85 365.39L428.29 372.01L428.72 378.54L429.15 384.95L429.59 391.24L430.02 397.39L430.46 403.40L430.89 409.25L431.33 414.93L431.76 420.44L432.20 425.75L432.63 430.87L433.07 435.79L433.50 440.48L433.93 444.96L434.37 449.20L434.80 453.20L435.24 456.96L435.67 460.46L436.11 463.71L436.54 466.69L436.98 469.40L437.41 471.84L437.85 474.00L438.28 475.87L438.72 477.47L439.15 478.77L439.58 479.79L440.02 480.52L440.45 480.95L440.89 481.10L441.32 480.95L441.76 480.51L442.19 479.78L442.63 478.77L443.06 477.47L443.50 475.88L443.93 474.02L444.36 471.88L444.80 469.48L445.23 466.80L445.67 463.87L446.10 460.68L446.54 457.24L446.97 453.57L447.41 449.65L447.84 445.52L448.28 441.16L448.71 436.59L449.15 431.82L449.58 426.86L450.01 421.72L450.45 416.40L450.88 410.92L451.32 405.29L451.75 399.52L452.19 393.61L452.62 387.59L453.06 381.46L453.49 375.23L453.93 368.92L454.36 362.53L454.79 356.08L455.23 349.59L455.66 343.05L456.10 336.49L456.53 329.92L456.97 323.35L457.40 316.79L457.84 310.25L458.27 303.75L458.71 297.30L459.14 290.90L459.57 284.58L460.01 278.34L460.44 272.19L460.88 266.16L461.31 260.23L461.75 254.44L462.18 248.78L462.62 243.27L463.05 237.92L463.49 232.73L463.92 227.73L464.36 222.91L464.79 218.28L465.22 213.86L465.66 209.65L466.09 205.65L466.53 201.88L466.96 198.35L467.40 195.05L467.83 191.99L468.27 189.19L468.70 186.63L469.14 184.34L469.57 182.31L470.00 180.54L470.44 179.04L470.87 177.81L471.31 176.86L471.74 176.17L472.18 175.76L472.61 175.63L473.05 175.77L473.48 176.19L473.92 176.87L474.35 177.83L474.78 179.06L475.22 180.55L475.65 182.31L476.09 184.32L476.52 186.59L476.96 189.11L477.39 191.88L477.83 194.88L478.26 198.12L478.70 201.59L479.13 205.27L479.57 209.17L480.00 213.28L480.43 217.58L480.87 222.07L481.30 226.75L481.74 231.59L482.17 236.60L482.61 241.76L483.04 247.07L483.48 252.51L483.91 258.07L484.35 263.74L484.78 269.52L485.21 275.39L485.65 281.33L486.08 287.35L486.52 293.42L486.95 299.54L487.39 305.70L487.82 311.88L488.26 318.07L488.69 324.26L489.13 330.44L489.56 336.60L489.99 342.72L490.43 348.80L490.86 354.82L491.30 360.77L491.73 366.65L492.17 372.44L492.60 378.13L493.04 383.71L493.47 389.16L493.91 394.49L494.34 399.68L494.78 404.72L495.21 409.60L495.64 414.32L496.08 418.86L496.51 423.21L496.95 427.38L497.38 431.34L497.82 435.11L498.25 438.65L498.69 441.98L499.12 445.09L499.56 447.97L499.99 450.61L500.42 453.01L500.86 455.17L501.29 457.08L501.73 458.75L502.16 460.16L502.60 461.31L503.03 462.21L503.47 462.85L503.90 463.23L504.34 463.36L504.77 463.22L505.20 462.83L505.64 462.18L506.07 461.28L506.51 460.12L506.94 458.71L507.38 457.06L507.81 455.16L508.25 453.02L508.68 450.65L509.12 448.04L509.55 445.21L509.99 442.16L510.42 438.89L510.85 435.42L511.29 431.74L511.72 427.87L512.16 423.82L512.59 419.59L513.03 415.18L513.46 410.62L513.90 405.90L514.33 401.03L514.77 396.04L515.20 390.91L515.63 385.67L516.07 380.33L516.50 374.89L516.94 369.36L517.37 363.76L517.81 358.09L518.24 352.37L518.68 346.60L519.11 340.81L519.55 334.99L519.98 329.16L520.41 323.32L520.85 317.50L521.28 311.70L521.72 305.94L522.15 300.21L522.59 294.54L523.02 288.93L523.46 283.39L523.89 277.94L524.33 272.59L524.76 267.33L525.20 262.19L525.63 257.17L526.06 252.29L526.50 247.54L526.93 242.94L527.37 238.50L527.80 234.23L528.24 230.13L528.67 226.21L529.11 222.47L529.54 218.93L529.98 215.59L530.41 212.45L530.84 209.53L531.28 206.82L531.71 204.33L532.15 202.07L532.58 200.04L533.02 198.24L533.45 196.67L533.89 195.35L534.32 194.26L534.76 193.42L535.19 192.81L535.62 192.45L536.06 192.34L536.49 192.47L536.93 192.84L537.36 193.45L537.80 194.30L538.23 195.40L538.67 196.72L539.10 198.28L539.54 200.07L539.97 202.09L540.41 204.33L540.84 206.79L541.27 209.45L541.71 212.33L542.14 215.41L542.58 218.68L543.01 222.14L543.45 225.79L543.88 229.61L544.32 233.60L544.75 237.75L545.19 242.05L545.62 246.49L546.05 251.07L546.49 255.78L546.92 260.61L547.36 265.55L547.79 270.58L548.23 275.71L548.66 280.91L549.10 286.19L549.53 291.53L549.97 296.92L550.40 302.35L550.84 307.81L551.27 313.29L551.70 318.78L552.14 324.28L552.57 329.76L553.01 335.22L553.44 340.66L553.88 346.05L554.31 351.39L554.75 356.67L555.18 361.89L555.62 367.02L556.05 372.07L556.48 377.01L556.92 381.85L557.35 386.58L557.79 391.18L558.22 395.65L558.66 399.98L559.09 404.16L559.53 408.19L559.96 412.05L560.40 415.74L560.83 419.26L561.26 422.60L561.70 425.74L562.13 428.69L562.57 431.45L563.00 434.00L563.44 436.34L563.87 438.47L564.31 440.38L564.74 442.07L565.18 443.55L565.61 444.79L566.05 445.82L566.48 446.61L566.91 447.18L567.35 447.51L567.78 447.62L568.22 447.50L568.65 447.15L569.09 446.57L569.52 445.76L569.96 444.73L570.39 443.48L570.83 442.01L571.26 440.32L571.69 438.42L572.13 436.31L572.56 434.00L573.00 431.48L573.43 428.77L573.87 425.87L574.30 422.79L574.74 419.53L575.17 416.09L575.61 412.49L576.04 408.73L576.47 404.83L576.91 400.77L577.34 396.58L577.78 392.27L578.21 387.83L578.65 383.28L579.08 378.63L579.52 373.89L579.95 369.06L580.39 364.16L580.82 359.19L581.26 354.16L581.69 349.08L582.12 343.97L582.56 338.82L582.99 333.66L583.43 328.48L583.86 323.31L584.30 318.15L584.73 313.00L585.17 307.88L585.60 302.81L586.04 297.77L586.47 292.80L586.90 287.89L587.34 283.05L587.77 278.30L588.21 273.64L588.64 269.08L589.08 264.63L589.51 260.30L589.95 256.09L590.38 252.01L590.82 248.07L591.25 244.28L591.68 240.64L592.12 237.17L592.55 233.85L592.99 230.71L593.42 227.75L593.86 224.97L594.29 222.38L594.73 219.98L595.16 217.78L595.60 215.77L596.03 213.97L596.47 212.38L596.90 210.99L597.33 209.82L597.77 208.86L598.20 208.11L598.64 207.58L599.07 207.26L599.51 207.16L599.94 207.28L600.38 207.61L600.81 208.16L601.25 208.92L601.68 209.89L602.11 211.07L602.55 212.46L602.98 214.05L603.42 215.84L603.85 217.83L604.29 220.01L604.72 222.38L605.16 224.93L605.59 227.67L606.03 230.57L606.46 233.65L606.89 236.88L607.33 240.27L607.76 243.81L608.20 247.50L608.63 251.32L609.07 255.26L609.50 259.33L609.94 263.51L610.37 267.79L610.81 272.17L611.24 276.64L611.68 281.19L612.11 285.81L612.54 290.49L612.98 295.23L613.41 300.01L613.85 304.83L614.28 309.68L614.72 314.54L615.15 319.41L615.59 324.29L616.02 329.15L616.46 334.00L616.89 338.82L617.32 343.60L617.76 348.34L618.19 353.03L618.63 357.65L619.06 362.20L619.50 366.68L619.93 371.07L620.37 375.36L620.80 379.55L621.24 383.64L621.67 387.60L622.10 391.44L622.54 395.15L622.97 398.72L623.41 402.14L623.84 405.42L624.28 408.54L624.71 411.49L625.15 414.28L625.58 416.90L626.02 419.34L626.45 421.60L626.89 423.67L627.32 425.56L627.75 427.25L628.19 428.75L628.62 430.06L629.06 431.16L629.49 432.07L629.93 432.77L630.36 433.27L630.80 433.57L631.23 433.66L631.67 433.55L632.10 433.23L632.53 432.72L632.97 432.00L633.40 431.08L633.84 429.97L634.27 428.66L634.71 427.16L635.14 425.47L635.58 423.60L636.01 421.54L636.45 419.31L636.88 416.90L637.32 414.33L637.75 411.59L638.18 408.69L638.62 405.64L639.05 402.45L639.49 399.11L639.92 395.64L640.36 392.05L640.79 388.33L641.23 384.50L641.66 380.56L642.10 376.52L642.53 372.40L642.96 368.19L643.40 363.90L643.83 359.55L644.27 355.14L644.70 350.68L645.14 346.17L645.57 341.63L646.01 337.07L646.44 332.49L646.88 327.90L647.31 323.31L647.74 318.72L648.18 314.16L648.61 309.62L649.05 305.11L649.48 300.65L649.92 296.24L650.35 291.88L650.79 287.59L651.22 283.38L651.66 279.24L652.09 275.20L652.53 271.25L652.96 267.41L653.39 263.67L653.83 260.06L654.26 256.57L654.70 253.20L655.13 249.98L655.57 246.90L656.00 243.96L656.44 241.18L656.87 238.55L657.31 236.09L657.74 233.79L658.17 231.66L658.61 229.71L659.04 227.93L659.48 226.34L659.91 224.93L660.35 223.70L660.78 222.66L661.22 221.81L661.65 221.15L662.09 220.68L662.52 220.40L662.95 220.31L663.39 220.42L663.82 220.72L664.26 221.20L664.69 221.88L665.13 222.75L665.56 223.80L666.00 225.03L666.43 226.44L666.87 228.03L667.30 229.80L667.74 231.74L668.17 233.84L668.60 236.11L669.04 238.54L669.47 241.12L669.91 243.85L670.34 246.72L670.78 249.73L671.21 252.87L671.65 256.14L672.08 259.53L672.52 263.04L672.95 266.64L673.38 270.35L673.82 274.16L674.25 278.04L674.69 282.01L675.12 286.05L675.56 290.15L675.99 294.30L676.43 298.51L676.86 302.75L677.30 307.02L677.73 311.32L678.16 315.64L678.60 319.96L679.03 324.29L679.47 328.60L679.90 332.90L680.34 337.18L680.77 341.42L681.21 345.63L681.64 349.78L682.08 353.89L682.51 357.93L682.95 361.90L683.38 365.79L683.81 369.60L684.25 373.31L684.68 376.93L685.12 380.45L685.55 383.86L685.99 387.14L686.42 390.31L686.86 393.35L687.29 396.25L687.73 399.02L688.16 401.64L688.59 404.11L689.03 406.43L689.46 408.59L689.90 410.59L690.33 412.43L690.77 414.10L691.20 415.61L691.64 416.94L692.07 418.09L692.51 419.07L692.94 419.87L693.37 420.49L693.81 420.93L694.24 421.19L694.68 421.27L695.11 421.17L695.55 420.89L695.98 420.43L696.42 419.79L696.85 418.97L697.29 417.98L697.72 416.82L698.16 415.49L698.59 413.99L699.02 412.32L699.46 410.50L699.89 408.51L700.33 406.38L700.76 404.09L701.20 401.66L701.63 399.09L702.07 396.38L702.50 393.54L702.94 390.58L703.37 387.50L703.80 384.31L704.24 381.01L704.67 377.61L705.11 374.11L705.54 370.53L705.98 366.87L706.41 363.13L706.85 359.33L707.28 355.47L707.72 351.55L708.15 347.59L708.58 343.60L709.02 339.57L709.45 335.52L709.89 331.45L710.32 327.38L710.76 323.31L711.19 319.24L711.63 315.19L712.06 311.17L712.50 307.17L712.93 303.21L713.37 299.29L713.80 295.43L714.23 291.63L714.67 287.89L715.10 284.22L715.54 280.63L715.97 277.13L716.41 273.72L716.84 270.41L717.28 267.20L717.71 264.11L718.15 261.13L718.58 258.27L719.01 255.53L719.45 252.93L719.88 250.46L720.32 248.13L720.75 245.95L721.19 243.91L721.62 242.03L722.06 240.30L722.49 238.72L722.93 237.31L723.36 236.06L723.80 234.97L724.23 234.05L724.66 233.30L725.10 232.72L725.53 232.30L725.97 232.06L726.40 231.98L726.84 232.08L727.27 232.35L727.71 232.78L728.14 233.38L728.58 234.15L729.01 235.08L729.44 236.18L729.88 237.44L730.31 238.85L730.75 240.42L731.18 242.14L731.62 244.01L732.05 246.03L732.49 248.18L732.92 250.47L733.36 252.90L733.79 255.45L734.22 258.12L734.66 260.91L735.09 263.81L735.53 266.82L735.96 269.93L736.40 273.13L736.83 276.42L737.27 279.80L737.70 283.25L738.14 286.77L738.57 290.35L739.01 293.99L739.44 297.68L739.87 301.41L740.31 305.17L740.74 308.96L741.18 312.78L741.61 316.61L742.05 320.45L742.48 324.28L742.92 328.11L743.35 331.92L743.79 335.72L744.22 339.48L744.65 343.21L745.09 346.90L745.52 350.54L745.96 354.12L746.39 357.64L746.83 361.10L747.26 364.48L747.70 367.77L748.13 370.98L748.57 374.10L749.00 377.12L749.43 380.04L749.87 382.84L750.30 385.54L750.74 388.11L751.17 390.56L751.61 392.89L752.04 395.08L752.48 397.14L752.91 399.05L753.35 400.83L753.78 402.46L754.22 403.94L754.65 405.27L755.08 406.45L755.52 407.47L755.95 408.33L756.39 409.04L756.82 409.59L757.26 409.98L757.69 410.21L758.13 410.28L758.56 410.19L759.00 409.94L759.43 409.52L759.86 408.96L760.30 408.23L760.73 407.35L761.17 406.32L761.60 405.13L762.04 403.80L762.47 402.32L762.91 400.70L763.34 398.94L763.78 397.04L764.21 395.01L764.64 392.85L765.08 390.57L765.51 388.16L765.95 385.64L766.38 383.02L766.82 380.28L767.25 377.45L767.69 374.52L768.12 371.50L768.56 368.40L768.99 365.22L769.43 361.97L769.86 358.65L770.29 355.28L770.73 351.85L771.16 348.38L771.60 344.86L772.03 341.32L772.47 337.74L772.90 334.15L773.34 330.54L773.77 326.93L774.21 323.32L774.64 319.71L775.07 316.12L775.51 312.54L775.94 309.00L776.38 305.49L776.81 302.01L777.25 298.59L777.68 295.21L778.12 291.89L778.55 288.64L778.99 285.46L779.42 282.35L779.85 279.33L780.29 276.39L780.72 273.55L781.16 270.80L781.59 268.16L782.03 265.62L782.46 263.20L782.90 260.89L783.33 258.70L783.77 256.64L784.20 254.70L784.64 252.90L785.07 251.23L785.50 249.69L785.94 248.30L786.37 247.05L786.81 245.94L787.24 244.98L787.68 244.16L788.11 243.50L788.55 242.98L788.98 242.62L789.42 242.40L789.85 242.34L790.28 242.42L790.72 242.66L791.15 243.05L791.59 243.59L792.02 244.27L792.46 245.10L792.89 246.07L793.33 247.19L793.76 248.45L794.20 249.84L794.63 251.37L795.06 253.03L795.50 254.82L795.93 256.73L796.37 258.77L796.80 260.92L797.24 263.18L797.67 265.56L798.11 268.03L798.54 270.61L798.98 273.28L799.41 276.04L799.85 278.88L800.28 281.80L800.71 284.80L801.15 287.86L801.58 290.98L802.02 294.16L802.45 297.39L802.89 300.66L803.32 303.97L803.76 307.31L804.19 310.68L804.63 314.07L805.06 317.46L805.49 320.87L805.93 324.27L806.36 327.67L806.80 331.05L807.23 334.42L807.67 337.76L808.10 341.07L808.54 344.34L808.97 347.57L809.41 350.74L809.84 353.87L810.27 356.93L810.71 359.93L811.14 362.85L811.58 365.70L812.01 368.46L812.45 371.14L812.88 373.73L813.32 376.22L813.75 378.61L814.19 380.89L814.62 383.06L815.06 385.12L815.49 387.07L815.92 388.89L816.36 390.59L816.79 392.16L817.23 393.61L817.66 394.92L818.10 396.10L818.53 397.14L818.97 398.04L819.40 398.81L819.84 399.44L820.27 399.92L820.70 400.27L821.14 400.47L821.57 400.53L822.01 400.44L822.44 400.22L822.88 399.85L823.31 399.35L823.75 398.70L824.18 397.92L824.62 397.00L825.05 395.95L825.49 394.76L825.92 393.45L826.35 392.01L826.79 390.44L827.22 388.76L827.66 386.95L828.09 385.04L828.53 383.01L828.96 380.88L829.40 378.64L829.83 376.31L830.27 373.88L830.70 371.36L831.13 368.76L831.57 366.09L832.00 363.33L832.44 360.51L832.87 357.63L833.31 354.69L833.74 351.69L834.18 348.65L834.61 345.57L835.05 342.45L835.48 339.30L835.91 336.13L836.35 332.94L836.78 329.74L837.22 326.54L837.65 323.33L838.09 320.13L838.52 316.94L838.96 313.77L839.39 310.63L839.83 307.51L840.26 304.43L840.70 301.39L841.13 298.40L841.56 295.45L842.00 292.57L842.43 289.75L842.87 286.99L843.30 284.31L843.74 281.71L844.17 279.18L844.61 276.75L845.04 274.40L845.48 272.16L845.91 270.01L846.34 267.96L846.78 266.02L847.21 264.19L847.65 262.47L848.08 260.87L848.52 259.39L848.95 258.03L849.39 256.80L849.82 255.69L850.26 254.71L850.69 253.85L851.12 253.13L851.56 252.54L851.99 252.09L852.43 251.77L852.86 251.58L853.30 251.52L853.73 251.60L854.17 251.81L854.60 252.16L855.04 252.64L855.47 253.25L855.91 253.98L856.34 254.85L856.77 255.84L857.21 256.96L857.64 258.20L858.08 259.56L858.51 261.03L858.95 262.62L859.38 264.32L859.82 266.12L860.25 268.03L860.69 270.04L861.12 272.15L861.55 274.35L861.99 276.64L862.42 279.01L862.86 281.46L863.29 283.98L863.73 286.57L864.16 289.23L864.60 291.95L865.03 294.72L865.47 297.54L865.90 300.41L866.33 303.31L866.77 306.25L867.20 309.21L867.64 312.20L868.07 315.20L868.51 318.22L868.94 321.24L869.38 324.26L869.81 327.27L870.25 330.27L870.68 333.26L871.12 336.22L871.55 339.16L871.98 342.06L872.42 344.92L872.85 347.74L873.29 350.51L873.72 353.23L874.16 355.89L874.59 358.48L875.03 361.01L875.46 363.46L875.90 365.83L876.33 368.13L876.76 370.33L877.20 372.45L877.63 374.48L878.07 376.40L878.50 378.23L878.94 379.95L879.37 381.57L879.81 383.08L880.24 384.47L880.68 385.75L881.11 386.91L881.54 387.96L881.98 388.88L882.41 389.68L882.85 390.36L883.28 390.91L883.72 391.34L884.15 391.65L884.59 391.82L885.02 391.87L885.46 391.80L885.89 391.60L886.33 391.27L886.76 390.82L887.19 390.25L887.63 389.55L888.06 388.73L888.50 387.80L888.93 386.75L889.37 385.58L889.80 384.30L890.24 382.91L890.67 381.41L891.11 379.81L891.54 378.11L891.97 376.31L892.41 374.41L892.84 372.43L893.28 370.36L893.71 368.20L894.15 365.97L894.58 363.66L895.02 361.29L895.45 358.84L895.89 356.34L896.32 353.78L896.75 351.17L897.19 348.51L897.62 345.81L898.06 343.08L898.49 340.31L898.93 337.52L899.36 334.70L899.80 331.87L900.23 329.03L900.67 326.19L901.10 323.35L901.54 320.51L901.97 317.68L902.40 314.87L902.84 312.08L903.27 309.31L903.71 306.58L904.14 303.88L904.58 301.23L905.01 298.62L905.45 296.06L905.88 293.55L906.32 291.11L906.75 288.73L907.18 286.42L907.62 284.19L908.05 282.03L908.49 279.95L908.92 277.95L909.36 276.05L909.79 274.23L910.23 272.51L910.66 270.89L911.10 269.37L911.53 267.95L911.97 266.64L912.40 265.43L912.83 264.34L913.27 263.36L913.70 262.49L914.14 261.73L914.57 261.09L915.01 260.57L915.44 260.17L915.88 259.89L916.31 259.72L916.75 259.67L917.18 259.74L917.61 259.93L918.05 260.24L918.48 260.67L918.92 261.21L919.35 261.87L919.79 262.64L920.22 263.52L920.66 264.51L921.09 265.61L921.53 266.82L921.96 268.13L922.39 269.54L922.83 271.05L923.26 272.65L923.70 274.35L924.13 276.13L924.57 278.00L925.00 279.95L925.44 281.98L925.87 284.09L926.31 286.26L926.74 288.50L927.18 290.80L927.61 293.16L928.04 295.57L928.48 298.03L928.91 300.53L929.35 303.08L929.78 305.65L930.22 308.26L930.65 310.89L931.09 313.54L931.52 316.21L931.96 318.88L932.39 321.56L932.82 324.24L933.26 326.91L933.69 329.58L934.13 332.22L934.56 334.85L935.00 337.46L935.43 340.03L935.87 342.57L936.30 345.07L936.74 347.53L937.17 349.94L937.60 352.30L938.04 354.60L938.47 356.84L938.91 359.01L939.34 361.12L939.78 363.15L940.21 365.11L940.65 366.99L941.08 368.78L941.52 370.49L941.95 372.11L942.39 373.64L942.82 375.07L943.25 376.41L943.69 377.64L944.12 378.78L944.56 379.81L944.99 380.73L945.43 381.55L945.86 382.26L946.30 382.86L946.73 383.35L947.17 383.73L947.60 384.00" stroke="#000" stroke-width="3.4" fill="none" stroke-linejoin="round" stroke-linecap="round"/>
<rect x="713.7" y="476.4" width="213.8" height="152.5" fill="#fff" stroke="#000" stroke-width="1.2"/>
<rect x="761.3" y="499" width="17.8" height="17" fill="#358c1b"/>
<path d="M758 559.8L782.4 559.8L770.2 539.5Z" fill="#1400ff"/>
<circle cx="770.3" cy="598.4" r="10" fill="#ff230f"/>
<text x="820.5" y="519.9" font-family="Liberation Serif" font-size="37">290 K</text>
<text x="820.5" y="565.5" font-family="Liberation Serif" font-size="37">100 K</text>
<text x="820.5" y="610.9" font-family="Liberation Serif" font-size="37">10 K</text>
<text transform="translate(158.5 685.2) scale(0.98 1.03)" text-anchor="middle" font-family="Liberation Sans" font-size="35" text-rendering="geometricPrecision">0</text>
<text transform="translate(333.9 685.2) scale(0.98 1.03)" text-anchor="middle" font-family="Liberation Sans" font-size="35" text-rendering="geometricPrecision">2</text>
<text transform="translate(509.2 685.2) scale(0.98 1.03)" text-anchor="middle" font-family="Liberation Sans" font-size="35" text-rendering="geometricPrecision">4</text>
<text transform="translate(684.6 685.2) scale(0.98 1.03)" text-anchor="middle" font-family="Liberation Sans" font-size="35" text-rendering="geometricPrecision">6</text>
<text transform="translate(859.9 685.2) scale(0.98 1.03)" text-anchor="middle" font-family="Liberation Sans" font-size="35" text-rendering="geometricPrecision">8</text>
<text transform="translate(144.2 77.1) scale(0.98 1.03)" text-anchor="end" font-family="Liberation Sans" font-size="35" text-rendering="geometricPrecision">0.14</text>
<text transform="translate(144.2 205.5) scale(0.98 1.03)" text-anchor="end" font-family="Liberation Sans" font-size="35" text-rendering="geometricPrecision">0.07</text>
<text transform="translate(144.2 333.9) scale(0.98 1.03)" text-anchor="end" font-family="Liberation Sans" font-size="35" text-rendering="geometricPrecision">0.00</text>
<text transform="translate(144.2 462.2) scale(0.98 1.03)" text-anchor="end" font-family="Liberation Sans" font-size="35" text-rendering="geometricPrecision">-0.07</text>
<text transform="translate(144.2 590.6) scale(0.98 1.03)" text-anchor="end" font-family="Liberation Sans" font-size="35" text-rendering="geometricPrecision">-0.14</text>
<text x="459" y="756.8" font-family="Liberation Serif" font-size="48.2">Time (μs)</text>
<text transform="translate(34.6 501) rotate(-90)" x="0" y="0" font-family="Liberation Serif" font-size="48">TF Asymmetry</text>
</svg></body></html>
